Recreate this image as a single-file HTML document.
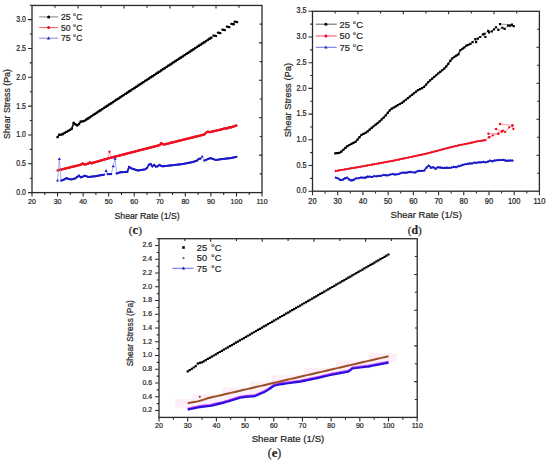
<!DOCTYPE html>
<html><head><meta charset="utf-8"><style>
html,body{margin:0;padding:0;background:#fff;}
body{width:550px;height:462px;overflow:hidden;}
svg{display:block;}
text{font-family:"Liberation Sans", sans-serif;fill:#222;stroke:#222;stroke-width:0.2px;}
text.cap{font-family:"Liberation Serif", serif;font-weight:bold;}
text.cap tspan{font-weight:normal;}
text.cap tspan.l{font-weight:bold;}
</style></head><body>
<svg width="550" height="462" viewBox="0 0 550 462">
<rect width="550" height="462" fill="#fff"/>
<rect x="32.00" y="5.45" width="230.00" height="187.15" fill="none" stroke="#2a2a2a" stroke-width="1.3"/>
<path d="M32.00 192.60h-4.0M32.00 163.77h-4.0M32.00 134.94h-4.0M32.00 106.11h-4.0M32.00 77.28h-4.0M32.00 48.45h-4.0M32.00 19.62h-4.0M32.00 178.19h-2.3M32.00 149.35h-2.3M32.00 120.53h-2.3M32.00 91.70h-2.3M32.00 62.86h-2.3M32.00 34.03h-2.3M32.00 5.20h-2.3M32.00 192.60v4.0M57.56 192.60v4.0M83.11 192.60v4.0M108.67 192.60v4.0M134.22 192.60v4.0M159.78 192.60v4.0M185.33 192.60v4.0M210.89 192.60v4.0M236.44 192.60v4.0M262.00 192.60v4.0M44.78 192.60v2.3M70.33 192.60v2.3M95.89 192.60v2.3M121.44 192.60v2.3M147.00 192.60v2.3M172.56 192.60v2.3M198.11 192.60v2.3M223.67 192.60v2.3M249.22 192.60v2.3M55.00 5.45v2.3M262.00 24.16h-2.3M78.00 5.45v3.0M262.00 42.88h-3.0M101.00 5.45v2.3M262.00 61.60h-2.3M124.00 5.45v3.0M262.00 80.31h-3.0M147.00 5.45v2.3M262.00 99.03h-2.3M170.00 5.45v3.0M262.00 117.74h-3.0M193.00 5.45v2.3M262.00 136.45h-2.3M216.00 5.45v3.0M262.00 155.17h-3.0M239.00 5.45v2.3M262.00 173.88h-2.3" stroke="#2a2a2a" stroke-width="1.10" fill="none"/>
<text transform="translate(26.00 195.06) scale(1 1.18)" text-anchor="end" font-size="7.0">0.0</text>
<text transform="translate(26.00 166.23) scale(1 1.18)" text-anchor="end" font-size="7.0">0.5</text>
<text transform="translate(26.00 137.40) scale(1 1.18)" text-anchor="end" font-size="7.0">1.0</text>
<text transform="translate(26.00 108.57) scale(1 1.18)" text-anchor="end" font-size="7.0">1.5</text>
<text transform="translate(26.00 79.74) scale(1 1.18)" text-anchor="end" font-size="7.0">2.0</text>
<text transform="translate(26.00 50.91) scale(1 1.18)" text-anchor="end" font-size="7.0">2.5</text>
<text transform="translate(26.00 22.08) scale(1 1.18)" text-anchor="end" font-size="7.0">3.0</text>
<text transform="translate(32.00 203.90) scale(1 1.15)" text-anchor="middle" font-size="7.0">20</text>
<text transform="translate(57.56 203.90) scale(1 1.15)" text-anchor="middle" font-size="7.0">30</text>
<text transform="translate(83.11 203.90) scale(1 1.15)" text-anchor="middle" font-size="7.0">40</text>
<text transform="translate(108.67 203.90) scale(1 1.15)" text-anchor="middle" font-size="7.0">50</text>
<text transform="translate(134.22 203.90) scale(1 1.15)" text-anchor="middle" font-size="7.0">60</text>
<text transform="translate(159.78 203.90) scale(1 1.15)" text-anchor="middle" font-size="7.0">70</text>
<text transform="translate(185.33 203.90) scale(1 1.15)" text-anchor="middle" font-size="7.0">80</text>
<text transform="translate(210.89 203.90) scale(1 1.15)" text-anchor="middle" font-size="7.0">90</text>
<text transform="translate(236.44 203.90) scale(1 1.15)" text-anchor="middle" font-size="7.0">100</text>
<text transform="translate(262.00 203.90) scale(1 1.15)" text-anchor="middle" font-size="7.0">110</text>
<path d="M57.56 170.40 L59.34 169.96 L61.13 169.52 L62.92 169.08 L64.71 168.65 L66.50 168.21 L68.29 167.77 L70.08 167.33 L71.87 166.89 L73.66 166.45 L75.44 166.01 L77.23 165.58 L79.02 165.14 L80.81 164.70 L82.60 163.48 L84.39 164.49 L86.18 164.20 L87.97 163.70 L89.76 162.56 L91.54 163.19 L93.33 162.68 L95.12 162.17 L96.91 161.66 L98.70 161.15 L100.49 160.63 L102.28 160.12 L104.07 159.61 L105.86 159.10 L107.64 158.58 L109.43 151.66 L111.22 157.63 L113.01 157.17 L114.80 156.71 L116.59 156.25 L118.38 155.78 L120.17 155.32 L121.96 154.86 L123.74 154.40 L125.53 153.94 L127.32 153.47 L129.11 153.01 L130.90 152.55 L132.69 152.09 L134.48 151.63 L136.27 151.17 L138.06 150.71 L139.84 150.24 L141.63 149.78 L143.42 149.32 L145.21 148.86 L147.00 148.40 L148.79 147.94 L150.58 147.48 L152.37 147.02 L154.16 146.55 L155.94 146.09 L157.73 145.63 L159.52 145.17 L161.31 143.30 L163.10 144.33 L164.89 144.31 L166.68 143.86 L168.47 143.42 L170.26 142.97 L172.04 142.53 L173.83 142.08 L175.62 141.63 L177.41 141.19 L179.20 140.74 L180.99 140.30 L182.78 139.85 L184.57 139.41 L186.36 138.96 L188.14 138.51 L189.93 138.07 L191.72 137.62 L193.51 137.18 L195.30 136.73 L197.09 136.29 L198.88 135.84 L200.67 135.39 L202.46 134.95 L204.24 134.50 L206.03 132.58 L207.82 131.62 L209.61 132.17 L211.40 131.75 L213.19 131.33 L214.98 130.91 L216.77 130.50 L218.56 130.08 L220.34 129.66 L222.13 129.24 L223.92 128.60 L225.71 128.31 L227.50 128.31 L229.29 127.27 L231.08 127.27 L232.87 126.75 L234.66 126.05 L236.44 125.48" stroke="#f08090" stroke-width="0.7" fill="none"/>
<path d="M57.56 170.40 L59.34 169.96 L61.13 169.52 L62.92 169.08 L64.71 168.65 L66.50 168.21 L68.29 167.77 L70.08 167.33 L71.87 166.89 L73.66 166.45 L75.44 166.01 L77.23 165.58 L79.02 165.14 L80.81 164.70 L82.60 163.48 L84.39 164.49 L86.18 164.20 L87.97 163.70 L89.76 162.56 L91.54 163.19 L93.33 162.68 L95.12 162.17 L96.91 161.66 L98.70 161.15 L100.49 160.63 L102.28 160.12 L104.07 159.61 L105.86 159.10 L107.64 158.58 L109.43 158.09 L111.22 157.63 L113.01 157.17 L114.80 156.71 L116.59 156.25 L118.38 155.78 L120.17 155.32 L121.96 154.86 L123.74 154.40 L125.53 153.94 L127.32 153.47 L129.11 153.01 L130.90 152.55 L132.69 152.09 L134.48 151.63 L136.27 151.17 L138.06 150.71 L139.84 150.24 L141.63 149.78 L143.42 149.32 L145.21 148.86 L147.00 148.40 L148.79 147.94 L150.58 147.48 L152.37 147.02 L154.16 146.55 L155.94 146.09 L157.73 145.63 L159.52 145.17 L161.31 143.30 L163.10 144.33 L164.89 144.31 L166.68 143.86 L168.47 143.42 L170.26 142.97 L172.04 142.53 L173.83 142.08 L175.62 141.63 L177.41 141.19 L179.20 140.74 L180.99 140.30 L182.78 139.85 L184.57 139.41 L186.36 138.96 L188.14 138.51 L189.93 138.07 L191.72 137.62 L193.51 137.18 L195.30 136.73 L197.09 136.29 L198.88 135.84 L200.67 135.39 L202.46 134.95 L204.24 134.50 L206.03 132.58 L207.82 131.62 L209.61 132.17 L211.40 131.75 L213.19 131.33 L214.98 130.91 L216.77 130.50 L218.56 130.08 L220.34 129.66 L222.13 129.24 L223.92 128.60 L225.71 128.31 L227.50 128.31 L229.29 127.27 L231.08 127.27 L232.87 126.75 L234.66 126.05 L236.44 125.48" stroke="#ee1020" stroke-width="2.3" fill="none"/>
<path d="M56.36 170.40a1.2 1.2 0 1 0 2.4 0a1.2 1.2 0 1 0 -2.4 0zM58.14 169.96a1.2 1.2 0 1 0 2.4 0a1.2 1.2 0 1 0 -2.4 0zM59.93 169.52a1.2 1.2 0 1 0 2.4 0a1.2 1.2 0 1 0 -2.4 0zM61.72 169.08a1.2 1.2 0 1 0 2.4 0a1.2 1.2 0 1 0 -2.4 0zM63.51 168.65a1.2 1.2 0 1 0 2.4 0a1.2 1.2 0 1 0 -2.4 0zM65.30 168.21a1.2 1.2 0 1 0 2.4 0a1.2 1.2 0 1 0 -2.4 0zM67.09 167.77a1.2 1.2 0 1 0 2.4 0a1.2 1.2 0 1 0 -2.4 0zM68.88 167.33a1.2 1.2 0 1 0 2.4 0a1.2 1.2 0 1 0 -2.4 0zM70.67 166.89a1.2 1.2 0 1 0 2.4 0a1.2 1.2 0 1 0 -2.4 0zM72.46 166.45a1.2 1.2 0 1 0 2.4 0a1.2 1.2 0 1 0 -2.4 0zM74.24 166.01a1.2 1.2 0 1 0 2.4 0a1.2 1.2 0 1 0 -2.4 0zM76.03 165.58a1.2 1.2 0 1 0 2.4 0a1.2 1.2 0 1 0 -2.4 0zM77.82 165.14a1.2 1.2 0 1 0 2.4 0a1.2 1.2 0 1 0 -2.4 0zM79.61 164.70a1.2 1.2 0 1 0 2.4 0a1.2 1.2 0 1 0 -2.4 0zM81.40 163.48a1.2 1.2 0 1 0 2.4 0a1.2 1.2 0 1 0 -2.4 0zM83.19 164.49a1.2 1.2 0 1 0 2.4 0a1.2 1.2 0 1 0 -2.4 0zM84.98 164.20a1.2 1.2 0 1 0 2.4 0a1.2 1.2 0 1 0 -2.4 0zM86.77 163.70a1.2 1.2 0 1 0 2.4 0a1.2 1.2 0 1 0 -2.4 0zM88.56 162.56a1.2 1.2 0 1 0 2.4 0a1.2 1.2 0 1 0 -2.4 0zM90.34 163.19a1.2 1.2 0 1 0 2.4 0a1.2 1.2 0 1 0 -2.4 0zM92.13 162.68a1.2 1.2 0 1 0 2.4 0a1.2 1.2 0 1 0 -2.4 0zM93.92 162.17a1.2 1.2 0 1 0 2.4 0a1.2 1.2 0 1 0 -2.4 0zM95.71 161.66a1.2 1.2 0 1 0 2.4 0a1.2 1.2 0 1 0 -2.4 0zM97.50 161.15a1.2 1.2 0 1 0 2.4 0a1.2 1.2 0 1 0 -2.4 0zM99.29 160.63a1.2 1.2 0 1 0 2.4 0a1.2 1.2 0 1 0 -2.4 0zM101.08 160.12a1.2 1.2 0 1 0 2.4 0a1.2 1.2 0 1 0 -2.4 0zM102.87 159.61a1.2 1.2 0 1 0 2.4 0a1.2 1.2 0 1 0 -2.4 0zM104.66 159.10a1.2 1.2 0 1 0 2.4 0a1.2 1.2 0 1 0 -2.4 0zM106.44 158.58a1.2 1.2 0 1 0 2.4 0a1.2 1.2 0 1 0 -2.4 0zM108.23 151.66a1.2 1.2 0 1 0 2.4 0a1.2 1.2 0 1 0 -2.4 0zM110.02 157.63a1.2 1.2 0 1 0 2.4 0a1.2 1.2 0 1 0 -2.4 0zM111.81 157.17a1.2 1.2 0 1 0 2.4 0a1.2 1.2 0 1 0 -2.4 0zM113.60 156.71a1.2 1.2 0 1 0 2.4 0a1.2 1.2 0 1 0 -2.4 0zM115.39 156.25a1.2 1.2 0 1 0 2.4 0a1.2 1.2 0 1 0 -2.4 0zM117.18 155.78a1.2 1.2 0 1 0 2.4 0a1.2 1.2 0 1 0 -2.4 0zM118.97 155.32a1.2 1.2 0 1 0 2.4 0a1.2 1.2 0 1 0 -2.4 0zM120.76 154.86a1.2 1.2 0 1 0 2.4 0a1.2 1.2 0 1 0 -2.4 0zM122.54 154.40a1.2 1.2 0 1 0 2.4 0a1.2 1.2 0 1 0 -2.4 0zM124.33 153.94a1.2 1.2 0 1 0 2.4 0a1.2 1.2 0 1 0 -2.4 0zM126.12 153.47a1.2 1.2 0 1 0 2.4 0a1.2 1.2 0 1 0 -2.4 0zM127.91 153.01a1.2 1.2 0 1 0 2.4 0a1.2 1.2 0 1 0 -2.4 0zM129.70 152.55a1.2 1.2 0 1 0 2.4 0a1.2 1.2 0 1 0 -2.4 0zM131.49 152.09a1.2 1.2 0 1 0 2.4 0a1.2 1.2 0 1 0 -2.4 0zM133.28 151.63a1.2 1.2 0 1 0 2.4 0a1.2 1.2 0 1 0 -2.4 0zM135.07 151.17a1.2 1.2 0 1 0 2.4 0a1.2 1.2 0 1 0 -2.4 0zM136.86 150.71a1.2 1.2 0 1 0 2.4 0a1.2 1.2 0 1 0 -2.4 0zM138.64 150.24a1.2 1.2 0 1 0 2.4 0a1.2 1.2 0 1 0 -2.4 0zM140.43 149.78a1.2 1.2 0 1 0 2.4 0a1.2 1.2 0 1 0 -2.4 0zM142.22 149.32a1.2 1.2 0 1 0 2.4 0a1.2 1.2 0 1 0 -2.4 0zM144.01 148.86a1.2 1.2 0 1 0 2.4 0a1.2 1.2 0 1 0 -2.4 0zM145.80 148.40a1.2 1.2 0 1 0 2.4 0a1.2 1.2 0 1 0 -2.4 0zM147.59 147.94a1.2 1.2 0 1 0 2.4 0a1.2 1.2 0 1 0 -2.4 0zM149.38 147.48a1.2 1.2 0 1 0 2.4 0a1.2 1.2 0 1 0 -2.4 0zM151.17 147.02a1.2 1.2 0 1 0 2.4 0a1.2 1.2 0 1 0 -2.4 0zM152.96 146.55a1.2 1.2 0 1 0 2.4 0a1.2 1.2 0 1 0 -2.4 0zM154.74 146.09a1.2 1.2 0 1 0 2.4 0a1.2 1.2 0 1 0 -2.4 0zM156.53 145.63a1.2 1.2 0 1 0 2.4 0a1.2 1.2 0 1 0 -2.4 0zM158.32 145.17a1.2 1.2 0 1 0 2.4 0a1.2 1.2 0 1 0 -2.4 0zM160.11 143.30a1.2 1.2 0 1 0 2.4 0a1.2 1.2 0 1 0 -2.4 0zM161.90 144.33a1.2 1.2 0 1 0 2.4 0a1.2 1.2 0 1 0 -2.4 0zM163.69 144.31a1.2 1.2 0 1 0 2.4 0a1.2 1.2 0 1 0 -2.4 0zM165.48 143.86a1.2 1.2 0 1 0 2.4 0a1.2 1.2 0 1 0 -2.4 0zM167.27 143.42a1.2 1.2 0 1 0 2.4 0a1.2 1.2 0 1 0 -2.4 0zM169.06 142.97a1.2 1.2 0 1 0 2.4 0a1.2 1.2 0 1 0 -2.4 0zM170.84 142.53a1.2 1.2 0 1 0 2.4 0a1.2 1.2 0 1 0 -2.4 0zM172.63 142.08a1.2 1.2 0 1 0 2.4 0a1.2 1.2 0 1 0 -2.4 0zM174.42 141.63a1.2 1.2 0 1 0 2.4 0a1.2 1.2 0 1 0 -2.4 0zM176.21 141.19a1.2 1.2 0 1 0 2.4 0a1.2 1.2 0 1 0 -2.4 0zM178.00 140.74a1.2 1.2 0 1 0 2.4 0a1.2 1.2 0 1 0 -2.4 0zM179.79 140.30a1.2 1.2 0 1 0 2.4 0a1.2 1.2 0 1 0 -2.4 0zM181.58 139.85a1.2 1.2 0 1 0 2.4 0a1.2 1.2 0 1 0 -2.4 0zM183.37 139.41a1.2 1.2 0 1 0 2.4 0a1.2 1.2 0 1 0 -2.4 0zM185.16 138.96a1.2 1.2 0 1 0 2.4 0a1.2 1.2 0 1 0 -2.4 0zM186.94 138.51a1.2 1.2 0 1 0 2.4 0a1.2 1.2 0 1 0 -2.4 0zM188.73 138.07a1.2 1.2 0 1 0 2.4 0a1.2 1.2 0 1 0 -2.4 0zM190.52 137.62a1.2 1.2 0 1 0 2.4 0a1.2 1.2 0 1 0 -2.4 0zM192.31 137.18a1.2 1.2 0 1 0 2.4 0a1.2 1.2 0 1 0 -2.4 0zM194.10 136.73a1.2 1.2 0 1 0 2.4 0a1.2 1.2 0 1 0 -2.4 0zM195.89 136.29a1.2 1.2 0 1 0 2.4 0a1.2 1.2 0 1 0 -2.4 0zM197.68 135.84a1.2 1.2 0 1 0 2.4 0a1.2 1.2 0 1 0 -2.4 0zM199.47 135.39a1.2 1.2 0 1 0 2.4 0a1.2 1.2 0 1 0 -2.4 0zM201.26 134.95a1.2 1.2 0 1 0 2.4 0a1.2 1.2 0 1 0 -2.4 0zM203.04 134.50a1.2 1.2 0 1 0 2.4 0a1.2 1.2 0 1 0 -2.4 0zM204.83 132.58a1.2 1.2 0 1 0 2.4 0a1.2 1.2 0 1 0 -2.4 0zM206.62 131.62a1.2 1.2 0 1 0 2.4 0a1.2 1.2 0 1 0 -2.4 0zM208.41 132.17a1.2 1.2 0 1 0 2.4 0a1.2 1.2 0 1 0 -2.4 0zM210.20 131.75a1.2 1.2 0 1 0 2.4 0a1.2 1.2 0 1 0 -2.4 0zM211.99 131.33a1.2 1.2 0 1 0 2.4 0a1.2 1.2 0 1 0 -2.4 0zM213.78 130.91a1.2 1.2 0 1 0 2.4 0a1.2 1.2 0 1 0 -2.4 0zM215.57 130.50a1.2 1.2 0 1 0 2.4 0a1.2 1.2 0 1 0 -2.4 0zM217.36 130.08a1.2 1.2 0 1 0 2.4 0a1.2 1.2 0 1 0 -2.4 0zM219.14 129.66a1.2 1.2 0 1 0 2.4 0a1.2 1.2 0 1 0 -2.4 0zM220.93 129.24a1.2 1.2 0 1 0 2.4 0a1.2 1.2 0 1 0 -2.4 0zM222.72 128.60a1.2 1.2 0 1 0 2.4 0a1.2 1.2 0 1 0 -2.4 0zM224.51 128.31a1.2 1.2 0 1 0 2.4 0a1.2 1.2 0 1 0 -2.4 0zM226.30 128.31a1.2 1.2 0 1 0 2.4 0a1.2 1.2 0 1 0 -2.4 0zM228.09 127.27a1.2 1.2 0 1 0 2.4 0a1.2 1.2 0 1 0 -2.4 0zM229.88 127.27a1.2 1.2 0 1 0 2.4 0a1.2 1.2 0 1 0 -2.4 0zM231.67 126.75a1.2 1.2 0 1 0 2.4 0a1.2 1.2 0 1 0 -2.4 0zM233.46 126.05a1.2 1.2 0 1 0 2.4 0a1.2 1.2 0 1 0 -2.4 0zM235.24 125.48a1.2 1.2 0 1 0 2.4 0a1.2 1.2 0 1 0 -2.4 0z" fill="#ee1020"/>
<path d="M57.56 180.72 L59.34 158.87 L61.13 180.65 L62.92 180.08 L64.71 179.13 L66.50 178.19 L68.29 178.78 L70.08 179.37 L71.87 179.36 L73.66 178.88 L75.44 178.28 L77.23 176.94 L79.02 175.59 L80.81 177.36 L82.60 176.74 L84.39 175.73 L86.18 176.17 L87.97 176.84 L89.76 176.88 L91.54 176.66 L93.33 176.44 L95.12 176.23 L96.91 175.94 L98.70 175.62 L100.49 175.31 L102.28 174.99 L104.07 174.77 L106.11 170.80 L107.64 174.19 L109.43 174.15 L111.22 174.15 L113.27 166.19 L115.06 158.58 L116.59 173.57 L118.38 172.89 L120.17 172.29 L121.96 172.19 L123.74 172.09 L125.53 171.99 L127.32 171.89 L129.11 166.83 L130.90 168.08 L132.69 168.92 L134.48 169.45 L136.27 169.98 L138.06 170.52 L139.84 170.22 L141.63 169.93 L143.42 169.64 L145.21 169.34 L147.00 168.09 L148.79 164.84 L150.58 163.92 L152.37 166.46 L154.16 164.85 L155.94 166.63 L157.73 166.28 L159.52 164.87 L161.31 166.08 L163.10 166.28 L164.89 166.08 L166.68 165.87 L168.47 165.67 L170.26 165.47 L172.04 165.27 L173.83 165.07 L175.62 164.87 L177.41 164.66 L179.20 164.46 L180.99 164.26 L182.78 164.01 L184.57 163.66 L186.36 163.31 L188.14 162.95 L189.93 162.60 L191.72 162.24 L193.51 161.78 L195.30 161.16 L197.09 160.54 L198.88 158.74 L200.67 158.58 L202.20 156.39 L204.24 160.60 L206.03 159.84 L207.82 159.09 L209.61 158.33 L211.40 158.39 L213.19 159.06 L214.98 159.73 L216.77 159.86 L218.56 159.57 L220.34 159.28 L222.13 159.04 L223.92 158.84 L225.71 158.64 L227.50 158.44 L229.29 158.23 L231.08 158.03 L232.87 157.66 L234.66 157.25 L236.44 156.85" stroke="#8090e8" stroke-width="0.7" fill="none"/>
<path d="M61.13 180.65 L62.92 180.08 L64.71 179.13 L66.50 178.19 L68.29 178.78 L70.08 179.37 L71.87 179.36 L73.66 178.88 L75.44 178.28 L77.23 176.94 L79.02 175.59 L80.81 177.36 L82.60 176.74 L84.39 175.73 L86.18 176.17 L87.97 176.84 L89.76 176.88 L91.54 176.66 L93.33 176.44 L95.12 176.23 L96.91 175.94 L98.70 175.62 L100.49 175.31 L102.28 174.99 L104.07 174.77" stroke="#1a1ac8" stroke-width="1.9" fill="none" stroke-linejoin="round"/>
<path d="M107.64 174.19 L109.43 174.15 L111.22 174.15" stroke="#1a1ac8" stroke-width="1.9" fill="none" stroke-linejoin="round"/>
<path d="M116.59 173.57 L118.38 172.89 L120.17 172.29 L121.96 172.19 L123.74 172.09 L125.53 171.99 L127.32 171.89 L129.11 166.83 L130.90 168.08 L132.69 168.92 L134.48 169.45 L136.27 169.98 L138.06 170.52 L139.84 170.22 L141.63 169.93 L143.42 169.64 L145.21 169.34 L147.00 168.09 L148.79 164.84 L150.58 163.92 L152.37 166.46 L154.16 164.85 L155.94 166.63 L157.73 166.28 L159.52 164.87 L161.31 166.08 L163.10 166.28 L164.89 166.08 L166.68 165.87 L168.47 165.67 L170.26 165.47 L172.04 165.27 L173.83 165.07 L175.62 164.87 L177.41 164.66 L179.20 164.46 L180.99 164.26 L182.78 164.01 L184.57 163.66 L186.36 163.31 L188.14 162.95 L189.93 162.60 L191.72 162.24 L193.51 161.78 L195.30 161.16 L197.09 160.54 L198.88 158.74 L200.67 158.58" stroke="#1a1ac8" stroke-width="1.9" fill="none" stroke-linejoin="round"/>
<path d="M204.24 160.60 L206.03 159.84 L207.82 159.09 L209.61 158.33 L211.40 158.39 L213.19 159.06 L214.98 159.73 L216.77 159.86 L218.56 159.57 L220.34 159.28 L222.13 159.04 L223.92 158.84 L225.71 158.64 L227.50 158.44 L229.29 158.23 L231.08 158.03 L232.87 157.66 L234.66 157.25 L236.44 156.85" stroke="#1a1ac8" stroke-width="1.9" fill="none" stroke-linejoin="round"/>
<path d="M56.46 180.72a1.1 1.1 0 1 0 2.2 0a1.1 1.1 0 1 0 -2.2 0zM60.03 180.65a1.1 1.1 0 1 0 2.2 0a1.1 1.1 0 1 0 -2.2 0zM61.82 180.08a1.1 1.1 0 1 0 2.2 0a1.1 1.1 0 1 0 -2.2 0zM63.61 179.13a1.1 1.1 0 1 0 2.2 0a1.1 1.1 0 1 0 -2.2 0zM65.40 178.19a1.1 1.1 0 1 0 2.2 0a1.1 1.1 0 1 0 -2.2 0zM67.19 178.78a1.1 1.1 0 1 0 2.2 0a1.1 1.1 0 1 0 -2.2 0zM68.98 179.37a1.1 1.1 0 1 0 2.2 0a1.1 1.1 0 1 0 -2.2 0zM70.77 179.36a1.1 1.1 0 1 0 2.2 0a1.1 1.1 0 1 0 -2.2 0zM72.56 178.88a1.1 1.1 0 1 0 2.2 0a1.1 1.1 0 1 0 -2.2 0zM74.34 178.28a1.1 1.1 0 1 0 2.2 0a1.1 1.1 0 1 0 -2.2 0zM76.13 176.94a1.1 1.1 0 1 0 2.2 0a1.1 1.1 0 1 0 -2.2 0zM77.92 175.59a1.1 1.1 0 1 0 2.2 0a1.1 1.1 0 1 0 -2.2 0zM79.71 177.36a1.1 1.1 0 1 0 2.2 0a1.1 1.1 0 1 0 -2.2 0zM81.50 176.74a1.1 1.1 0 1 0 2.2 0a1.1 1.1 0 1 0 -2.2 0zM83.29 175.73a1.1 1.1 0 1 0 2.2 0a1.1 1.1 0 1 0 -2.2 0zM85.08 176.17a1.1 1.1 0 1 0 2.2 0a1.1 1.1 0 1 0 -2.2 0zM86.87 176.84a1.1 1.1 0 1 0 2.2 0a1.1 1.1 0 1 0 -2.2 0zM88.66 176.88a1.1 1.1 0 1 0 2.2 0a1.1 1.1 0 1 0 -2.2 0zM90.44 176.66a1.1 1.1 0 1 0 2.2 0a1.1 1.1 0 1 0 -2.2 0zM92.23 176.44a1.1 1.1 0 1 0 2.2 0a1.1 1.1 0 1 0 -2.2 0zM94.02 176.23a1.1 1.1 0 1 0 2.2 0a1.1 1.1 0 1 0 -2.2 0zM95.81 175.94a1.1 1.1 0 1 0 2.2 0a1.1 1.1 0 1 0 -2.2 0zM97.60 175.62a1.1 1.1 0 1 0 2.2 0a1.1 1.1 0 1 0 -2.2 0zM99.39 175.31a1.1 1.1 0 1 0 2.2 0a1.1 1.1 0 1 0 -2.2 0zM101.18 174.99a1.1 1.1 0 1 0 2.2 0a1.1 1.1 0 1 0 -2.2 0zM102.97 174.77a1.1 1.1 0 1 0 2.2 0a1.1 1.1 0 1 0 -2.2 0zM106.54 174.19a1.1 1.1 0 1 0 2.2 0a1.1 1.1 0 1 0 -2.2 0zM108.33 174.15a1.1 1.1 0 1 0 2.2 0a1.1 1.1 0 1 0 -2.2 0zM110.12 174.15a1.1 1.1 0 1 0 2.2 0a1.1 1.1 0 1 0 -2.2 0zM115.49 173.57a1.1 1.1 0 1 0 2.2 0a1.1 1.1 0 1 0 -2.2 0zM117.28 172.89a1.1 1.1 0 1 0 2.2 0a1.1 1.1 0 1 0 -2.2 0zM119.07 172.29a1.1 1.1 0 1 0 2.2 0a1.1 1.1 0 1 0 -2.2 0zM120.86 172.19a1.1 1.1 0 1 0 2.2 0a1.1 1.1 0 1 0 -2.2 0zM122.64 172.09a1.1 1.1 0 1 0 2.2 0a1.1 1.1 0 1 0 -2.2 0zM124.43 171.99a1.1 1.1 0 1 0 2.2 0a1.1 1.1 0 1 0 -2.2 0zM126.22 171.89a1.1 1.1 0 1 0 2.2 0a1.1 1.1 0 1 0 -2.2 0zM128.01 166.83a1.1 1.1 0 1 0 2.2 0a1.1 1.1 0 1 0 -2.2 0zM129.80 168.08a1.1 1.1 0 1 0 2.2 0a1.1 1.1 0 1 0 -2.2 0zM131.59 168.92a1.1 1.1 0 1 0 2.2 0a1.1 1.1 0 1 0 -2.2 0zM133.38 169.45a1.1 1.1 0 1 0 2.2 0a1.1 1.1 0 1 0 -2.2 0zM135.17 169.98a1.1 1.1 0 1 0 2.2 0a1.1 1.1 0 1 0 -2.2 0zM136.96 170.52a1.1 1.1 0 1 0 2.2 0a1.1 1.1 0 1 0 -2.2 0zM138.74 170.22a1.1 1.1 0 1 0 2.2 0a1.1 1.1 0 1 0 -2.2 0zM140.53 169.93a1.1 1.1 0 1 0 2.2 0a1.1 1.1 0 1 0 -2.2 0zM142.32 169.64a1.1 1.1 0 1 0 2.2 0a1.1 1.1 0 1 0 -2.2 0zM144.11 169.34a1.1 1.1 0 1 0 2.2 0a1.1 1.1 0 1 0 -2.2 0zM145.90 168.09a1.1 1.1 0 1 0 2.2 0a1.1 1.1 0 1 0 -2.2 0zM147.69 164.84a1.1 1.1 0 1 0 2.2 0a1.1 1.1 0 1 0 -2.2 0zM149.48 163.92a1.1 1.1 0 1 0 2.2 0a1.1 1.1 0 1 0 -2.2 0zM151.27 166.46a1.1 1.1 0 1 0 2.2 0a1.1 1.1 0 1 0 -2.2 0zM153.06 164.85a1.1 1.1 0 1 0 2.2 0a1.1 1.1 0 1 0 -2.2 0zM154.84 166.63a1.1 1.1 0 1 0 2.2 0a1.1 1.1 0 1 0 -2.2 0zM156.63 166.28a1.1 1.1 0 1 0 2.2 0a1.1 1.1 0 1 0 -2.2 0zM158.42 164.87a1.1 1.1 0 1 0 2.2 0a1.1 1.1 0 1 0 -2.2 0zM160.21 166.08a1.1 1.1 0 1 0 2.2 0a1.1 1.1 0 1 0 -2.2 0zM162.00 166.28a1.1 1.1 0 1 0 2.2 0a1.1 1.1 0 1 0 -2.2 0zM163.79 166.08a1.1 1.1 0 1 0 2.2 0a1.1 1.1 0 1 0 -2.2 0zM165.58 165.87a1.1 1.1 0 1 0 2.2 0a1.1 1.1 0 1 0 -2.2 0zM167.37 165.67a1.1 1.1 0 1 0 2.2 0a1.1 1.1 0 1 0 -2.2 0zM169.16 165.47a1.1 1.1 0 1 0 2.2 0a1.1 1.1 0 1 0 -2.2 0zM170.94 165.27a1.1 1.1 0 1 0 2.2 0a1.1 1.1 0 1 0 -2.2 0zM172.73 165.07a1.1 1.1 0 1 0 2.2 0a1.1 1.1 0 1 0 -2.2 0zM174.52 164.87a1.1 1.1 0 1 0 2.2 0a1.1 1.1 0 1 0 -2.2 0zM176.31 164.66a1.1 1.1 0 1 0 2.2 0a1.1 1.1 0 1 0 -2.2 0zM178.10 164.46a1.1 1.1 0 1 0 2.2 0a1.1 1.1 0 1 0 -2.2 0zM179.89 164.26a1.1 1.1 0 1 0 2.2 0a1.1 1.1 0 1 0 -2.2 0zM181.68 164.01a1.1 1.1 0 1 0 2.2 0a1.1 1.1 0 1 0 -2.2 0zM183.47 163.66a1.1 1.1 0 1 0 2.2 0a1.1 1.1 0 1 0 -2.2 0zM185.26 163.31a1.1 1.1 0 1 0 2.2 0a1.1 1.1 0 1 0 -2.2 0zM187.04 162.95a1.1 1.1 0 1 0 2.2 0a1.1 1.1 0 1 0 -2.2 0zM188.83 162.60a1.1 1.1 0 1 0 2.2 0a1.1 1.1 0 1 0 -2.2 0zM190.62 162.24a1.1 1.1 0 1 0 2.2 0a1.1 1.1 0 1 0 -2.2 0zM192.41 161.78a1.1 1.1 0 1 0 2.2 0a1.1 1.1 0 1 0 -2.2 0zM194.20 161.16a1.1 1.1 0 1 0 2.2 0a1.1 1.1 0 1 0 -2.2 0zM195.99 160.54a1.1 1.1 0 1 0 2.2 0a1.1 1.1 0 1 0 -2.2 0zM197.78 158.74a1.1 1.1 0 1 0 2.2 0a1.1 1.1 0 1 0 -2.2 0zM199.57 158.58a1.1 1.1 0 1 0 2.2 0a1.1 1.1 0 1 0 -2.2 0zM203.14 160.60a1.1 1.1 0 1 0 2.2 0a1.1 1.1 0 1 0 -2.2 0zM204.93 159.84a1.1 1.1 0 1 0 2.2 0a1.1 1.1 0 1 0 -2.2 0zM206.72 159.09a1.1 1.1 0 1 0 2.2 0a1.1 1.1 0 1 0 -2.2 0zM208.51 158.33a1.1 1.1 0 1 0 2.2 0a1.1 1.1 0 1 0 -2.2 0zM210.30 158.39a1.1 1.1 0 1 0 2.2 0a1.1 1.1 0 1 0 -2.2 0zM212.09 159.06a1.1 1.1 0 1 0 2.2 0a1.1 1.1 0 1 0 -2.2 0zM213.88 159.73a1.1 1.1 0 1 0 2.2 0a1.1 1.1 0 1 0 -2.2 0zM215.67 159.86a1.1 1.1 0 1 0 2.2 0a1.1 1.1 0 1 0 -2.2 0zM217.46 159.57a1.1 1.1 0 1 0 2.2 0a1.1 1.1 0 1 0 -2.2 0zM219.24 159.28a1.1 1.1 0 1 0 2.2 0a1.1 1.1 0 1 0 -2.2 0zM221.03 159.04a1.1 1.1 0 1 0 2.2 0a1.1 1.1 0 1 0 -2.2 0zM222.82 158.84a1.1 1.1 0 1 0 2.2 0a1.1 1.1 0 1 0 -2.2 0zM224.61 158.64a1.1 1.1 0 1 0 2.2 0a1.1 1.1 0 1 0 -2.2 0zM226.40 158.44a1.1 1.1 0 1 0 2.2 0a1.1 1.1 0 1 0 -2.2 0zM228.19 158.23a1.1 1.1 0 1 0 2.2 0a1.1 1.1 0 1 0 -2.2 0zM229.98 158.03a1.1 1.1 0 1 0 2.2 0a1.1 1.1 0 1 0 -2.2 0zM231.77 157.66a1.1 1.1 0 1 0 2.2 0a1.1 1.1 0 1 0 -2.2 0zM233.56 157.25a1.1 1.1 0 1 0 2.2 0a1.1 1.1 0 1 0 -2.2 0zM235.34 156.85a1.1 1.1 0 1 0 2.2 0a1.1 1.1 0 1 0 -2.2 0z" fill="#1a1ac8"/>
<path d="M59.34 157.19l1.54 2.80h-3.08zM106.11 169.12l1.54 2.80h-3.08zM113.27 164.51l1.54 2.80h-3.08zM115.06 156.90l1.54 2.80h-3.08zM202.20 154.71l1.54 2.80h-3.08z" fill="#1a1ac8"/>
<path d="M57.56 137.07 L59.34 134.77 L61.13 134.71 L62.92 134.02 L64.71 132.94 L66.50 131.91 L68.29 130.90 L70.08 129.89 L71.87 128.60 L73.66 122.83 L75.44 124.34 L77.23 125.43 L79.02 123.98 L80.81 121.56 L82.60 121.29 L84.39 120.83 L86.18 119.66 L87.97 118.49 L89.76 117.31 L91.54 116.14 L93.33 114.97 L95.12 113.79 L96.91 112.62 L98.70 111.45 L100.49 110.27 L102.28 109.10 L104.07 107.93 L105.86 106.76 L107.64 105.58 L109.43 104.41 L111.22 103.24 L113.01 102.06 L114.80 100.89 L116.59 99.72 L118.38 98.55 L120.17 97.37 L121.96 96.20 L123.74 95.03 L125.53 93.85 L127.32 92.68 L129.11 91.51 L130.90 90.34 L132.69 89.16 L134.48 87.99 L136.27 86.82 L138.06 85.64 L139.84 84.47 L141.63 83.30 L143.42 82.12 L145.21 80.95 L147.00 79.78 L148.79 78.61 L150.58 77.43 L152.37 76.26 L154.16 75.09 L155.94 73.91 L157.73 72.74 L159.52 71.57 L161.31 70.40 L163.10 69.22 L164.89 68.05 L166.68 66.88 L168.47 65.70 L170.26 64.53 L172.04 63.36 L173.83 62.19 L175.62 61.01 L177.41 59.84 L179.20 58.67 L180.99 57.49 L182.78 56.32 L184.57 55.15 L186.36 53.97 L188.14 52.80 L189.93 51.63 L191.72 50.46 L193.51 49.28 L195.30 48.11 L197.09 46.94 L198.88 45.76 L200.67 44.59 L202.46 43.42 L204.24 42.25 L206.03 41.07 L207.82 39.90 L209.61 38.73 L211.40 37.55" stroke="#111" stroke-width="1.6" fill="none"/>
<path d="M56.41 135.92h2.3v2.3h-2.3zM58.19 133.62h2.3v2.3h-2.3zM59.98 133.56h2.3v2.3h-2.3zM61.77 132.87h2.3v2.3h-2.3zM63.56 131.79h2.3v2.3h-2.3zM65.35 130.76h2.3v2.3h-2.3zM67.14 129.75h2.3v2.3h-2.3zM68.93 128.74h2.3v2.3h-2.3zM70.72 127.45h2.3v2.3h-2.3zM72.51 121.68h2.3v2.3h-2.3zM74.29 123.19h2.3v2.3h-2.3zM76.08 124.28h2.3v2.3h-2.3zM77.87 122.83h2.3v2.3h-2.3zM79.66 120.41h2.3v2.3h-2.3zM81.45 120.14h2.3v2.3h-2.3zM83.24 119.68h2.3v2.3h-2.3zM85.03 118.51h2.3v2.3h-2.3zM86.82 117.34h2.3v2.3h-2.3zM88.61 116.16h2.3v2.3h-2.3zM90.39 114.99h2.3v2.3h-2.3zM92.18 113.82h2.3v2.3h-2.3zM93.97 112.64h2.3v2.3h-2.3zM95.76 111.47h2.3v2.3h-2.3zM97.55 110.30h2.3v2.3h-2.3zM99.34 109.12h2.3v2.3h-2.3zM101.13 107.95h2.3v2.3h-2.3zM102.92 106.78h2.3v2.3h-2.3zM104.71 105.61h2.3v2.3h-2.3zM106.49 104.43h2.3v2.3h-2.3zM108.28 103.26h2.3v2.3h-2.3zM110.07 102.09h2.3v2.3h-2.3zM111.86 100.91h2.3v2.3h-2.3zM113.65 99.74h2.3v2.3h-2.3zM115.44 98.57h2.3v2.3h-2.3zM117.23 97.40h2.3v2.3h-2.3zM119.02 96.22h2.3v2.3h-2.3zM120.81 95.05h2.3v2.3h-2.3zM122.59 93.88h2.3v2.3h-2.3zM124.38 92.70h2.3v2.3h-2.3zM126.17 91.53h2.3v2.3h-2.3zM127.96 90.36h2.3v2.3h-2.3zM129.75 89.19h2.3v2.3h-2.3zM131.54 88.01h2.3v2.3h-2.3zM133.33 86.84h2.3v2.3h-2.3zM135.12 85.67h2.3v2.3h-2.3zM136.91 84.49h2.3v2.3h-2.3zM138.69 83.32h2.3v2.3h-2.3zM140.48 82.15h2.3v2.3h-2.3zM142.27 80.97h2.3v2.3h-2.3zM144.06 79.80h2.3v2.3h-2.3zM145.85 78.63h2.3v2.3h-2.3zM147.64 77.46h2.3v2.3h-2.3zM149.43 76.28h2.3v2.3h-2.3zM151.22 75.11h2.3v2.3h-2.3zM153.01 73.94h2.3v2.3h-2.3zM154.79 72.76h2.3v2.3h-2.3zM156.58 71.59h2.3v2.3h-2.3zM158.37 70.42h2.3v2.3h-2.3zM160.16 69.25h2.3v2.3h-2.3zM161.95 68.07h2.3v2.3h-2.3zM163.74 66.90h2.3v2.3h-2.3zM165.53 65.73h2.3v2.3h-2.3zM167.32 64.55h2.3v2.3h-2.3zM169.11 63.38h2.3v2.3h-2.3zM170.89 62.21h2.3v2.3h-2.3zM172.68 61.04h2.3v2.3h-2.3zM174.47 59.86h2.3v2.3h-2.3zM176.26 58.69h2.3v2.3h-2.3zM178.05 57.52h2.3v2.3h-2.3zM179.84 56.34h2.3v2.3h-2.3zM181.63 55.17h2.3v2.3h-2.3zM183.42 54.00h2.3v2.3h-2.3zM185.21 52.82h2.3v2.3h-2.3zM186.99 51.65h2.3v2.3h-2.3zM188.78 50.48h2.3v2.3h-2.3zM190.57 49.31h2.3v2.3h-2.3zM192.36 48.13h2.3v2.3h-2.3zM194.15 46.96h2.3v2.3h-2.3zM195.94 45.79h2.3v2.3h-2.3zM197.73 44.61h2.3v2.3h-2.3zM199.52 43.44h2.3v2.3h-2.3zM201.31 42.27h2.3v2.3h-2.3zM203.09 41.10h2.3v2.3h-2.3zM204.88 39.92h2.3v2.3h-2.3zM206.67 38.75h2.3v2.3h-2.3zM208.46 37.58h2.3v2.3h-2.3zM210.25 36.40h2.3v2.3h-2.3z" fill="#000"/>
<path d="M213.44 35.52 L216.00 35.98" stroke="#000" stroke-width="2.3" stroke-linecap="round" fill="none"/>
<path d="M217.92 32.59 L220.47 33.05" stroke="#000" stroke-width="2.3" stroke-linecap="round" fill="none"/>
<path d="M222.39 29.66 L224.94 30.12" stroke="#000" stroke-width="2.3" stroke-linecap="round" fill="none"/>
<path d="M226.86 26.72 L229.42 27.19" stroke="#000" stroke-width="2.3" stroke-linecap="round" fill="none"/>
<path d="M231.33 23.79 L233.89 24.25" stroke="#000" stroke-width="2.3" stroke-linecap="round" fill="none"/>
<path d="M234.66 21.61 L237.21 22.08" stroke="#000" stroke-width="2.3" stroke-linecap="round" fill="none"/>
<rect x="312.50" y="11.30" width="226.90" height="179.90" fill="none" stroke="#2a2a2a" stroke-width="1.3"/>
<path d="M312.50 191.20h-4.0M312.50 165.50h-4.0M312.50 139.80h-4.0M312.50 114.10h-4.0M312.50 88.40h-4.0M312.50 62.70h-4.0M312.50 37.00h-4.0M312.50 11.30h-4.0M312.50 178.35h-2.3M312.50 152.65h-2.3M312.50 126.95h-2.3M312.50 101.25h-2.3M312.50 75.55h-2.3M312.50 49.85h-2.3M312.50 24.15h-2.3M312.50 191.20v4.0M337.71 191.20v4.0M362.92 191.20v4.0M388.13 191.20v4.0M413.34 191.20v4.0M438.56 191.20v4.0M463.77 191.20v4.0M488.98 191.20v4.0M514.19 191.20v4.0M539.40 191.20v4.0M325.11 191.20v2.3M350.32 191.20v2.3M375.53 191.20v2.3M400.74 191.20v2.3M425.95 191.20v2.3M451.16 191.20v2.3M476.37 191.20v2.3M501.58 191.20v2.3M526.79 191.20v2.3M335.19 11.30v2.3M539.40 29.29h-2.3M357.88 11.30v3.0M539.40 47.28h-3.0M380.57 11.30v2.3M539.40 65.27h-2.3M403.26 11.30v3.0M539.40 83.26h-3.0M425.95 11.30v2.3M539.40 101.25h-2.3M448.64 11.30v3.0M539.40 119.24h-3.0M471.33 11.30v2.3M539.40 137.23h-2.3M494.02 11.30v3.0M539.40 155.22h-3.0M516.71 11.30v2.3M539.40 173.21h-2.3" stroke="#2a2a2a" stroke-width="1.10" fill="none"/>
<text transform="translate(306.50 193.30) scale(1 1.18)" text-anchor="end" font-size="7.2">0.0</text>
<text transform="translate(306.50 167.60) scale(1 1.18)" text-anchor="end" font-size="7.2">0.5</text>
<text transform="translate(306.50 141.90) scale(1 1.18)" text-anchor="end" font-size="7.2">1.0</text>
<text transform="translate(306.50 116.20) scale(1 1.18)" text-anchor="end" font-size="7.2">1.5</text>
<text transform="translate(306.50 90.50) scale(1 1.18)" text-anchor="end" font-size="7.2">2.0</text>
<text transform="translate(306.50 64.80) scale(1 1.18)" text-anchor="end" font-size="7.2">2.5</text>
<text transform="translate(306.50 39.10) scale(1 1.18)" text-anchor="end" font-size="7.2">3.0</text>
<text transform="translate(306.50 13.40) scale(1 1.18)" text-anchor="end" font-size="7.2">3.5</text>
<text transform="translate(312.50 203.60) scale(1 1.16)" text-anchor="middle" font-size="7.5">20</text>
<text transform="translate(337.71 203.60) scale(1 1.16)" text-anchor="middle" font-size="7.5">30</text>
<text transform="translate(362.92 203.60) scale(1 1.16)" text-anchor="middle" font-size="7.5">40</text>
<text transform="translate(388.13 203.60) scale(1 1.16)" text-anchor="middle" font-size="7.5">50</text>
<text transform="translate(413.34 203.60) scale(1 1.16)" text-anchor="middle" font-size="7.5">60</text>
<text transform="translate(438.56 203.60) scale(1 1.16)" text-anchor="middle" font-size="7.5">70</text>
<text transform="translate(463.77 203.60) scale(1 1.16)" text-anchor="middle" font-size="7.5">80</text>
<text transform="translate(488.98 203.60) scale(1 1.16)" text-anchor="middle" font-size="7.5">90</text>
<text transform="translate(514.19 203.60) scale(1 1.16)" text-anchor="middle" font-size="7.5">100</text>
<text transform="translate(539.40 203.60) scale(1 1.16)" text-anchor="middle" font-size="7.5">110</text>
<path d="M335.69 171.00 L337.96 170.61 L340.23 170.22 L342.50 169.83 L344.77 169.44 L347.04 169.05 L349.31 168.66 L351.58 168.27 L353.85 167.88 L356.12 167.49 L358.38 167.10 L360.65 166.71 L362.92 166.32 L365.19 165.90 L367.46 165.49 L369.73 165.07 L372.00 164.65 L374.27 164.24 L376.54 163.82 L378.81 163.40 L381.07 162.98 L383.34 162.57 L385.61 162.15 L387.88 161.73 L390.15 161.31 L392.42 160.90 L394.69 160.46 L396.96 159.97 L399.23 159.48 L401.50 159.00 L403.76 158.51 L406.03 158.03 L408.30 157.54 L410.57 157.06 L412.84 156.57 L415.11 156.09 L417.38 155.60 L419.65 155.12 L421.92 154.63 L424.19 154.15 L426.45 153.61 L428.72 153.04 L430.99 152.47 L433.26 151.90 L435.53 151.28 L437.80 150.66 L440.07 150.05 L442.34 149.43 L444.61 148.81 L446.88 148.23 L449.14 147.67 L451.41 147.12 L453.68 146.56 L455.95 146.01 L458.22 145.45 L460.49 144.99 L462.76 144.53 L465.03 144.07 L467.30 143.60 L469.57 143.14 L471.83 142.65 L474.10 142.11 L476.37 141.58 L478.64 141.16 L480.91 140.82 L483.18 140.48 L485.45 140.15" stroke="#ee1020" stroke-width="1.6" fill="none"/>
<path d="M335.69 171.00 L337.96 170.61 L340.23 170.22 L342.50 169.83 L344.77 169.44 L347.04 169.05 L349.31 168.66 L351.58 168.27 L353.85 167.88 L356.12 167.49 L358.38 167.10 L360.65 166.71 L362.92 166.32 L365.19 165.90 L367.46 165.49 L369.73 165.07 L372.00 164.65 L374.27 164.24 L376.54 163.82 L378.81 163.40 L381.07 162.98 L383.34 162.57 L385.61 162.15 L387.88 161.73 L390.15 161.31 L392.42 160.90 L394.69 160.46 L396.96 159.97 L399.23 159.48 L401.50 159.00 L403.76 158.51 L406.03 158.03 L408.30 157.54 L410.57 157.06 L412.84 156.57 L415.11 156.09 L417.38 155.60 L419.65 155.12 L421.92 154.63 L424.19 154.15 L426.45 153.61 L428.72 153.04 L430.99 152.47 L433.26 151.90 L435.53 151.28 L437.80 150.66 L440.07 150.05 L442.34 149.43 L444.61 148.81 L446.88 148.23 L449.14 147.67 L451.41 147.12 L453.68 146.56 L455.95 146.01 L458.22 145.45 L460.49 144.99 L462.76 144.53 L465.03 144.07 L467.30 143.60 L469.57 143.14 L471.83 142.65 L474.10 142.11 L476.37 141.58 L478.64 141.16 L480.91 140.82 L483.18 140.48 L485.45 140.15 L488.73 137.23 L489.48 137.23 L492.76 135.43 L498.31 133.63 L501.84 131.58 L503.35 130.55 L505.11 132.09 L509.15 127.46 L512.42 125.41 L513.43 129.01" stroke="#f07080" stroke-width="0.7" fill="none" stroke-opacity="1.0"/><path d="M334.54 171.00a1.15 1.15 0 1 0 2.3 0a1.15 1.15 0 1 0 -2.3 0zM336.81 170.61a1.15 1.15 0 1 0 2.3 0a1.15 1.15 0 1 0 -2.3 0zM339.08 170.22a1.15 1.15 0 1 0 2.3 0a1.15 1.15 0 1 0 -2.3 0zM341.35 169.83a1.15 1.15 0 1 0 2.3 0a1.15 1.15 0 1 0 -2.3 0zM343.62 169.44a1.15 1.15 0 1 0 2.3 0a1.15 1.15 0 1 0 -2.3 0zM345.89 169.05a1.15 1.15 0 1 0 2.3 0a1.15 1.15 0 1 0 -2.3 0zM348.16 168.66a1.15 1.15 0 1 0 2.3 0a1.15 1.15 0 1 0 -2.3 0zM350.43 168.27a1.15 1.15 0 1 0 2.3 0a1.15 1.15 0 1 0 -2.3 0zM352.70 167.88a1.15 1.15 0 1 0 2.3 0a1.15 1.15 0 1 0 -2.3 0zM354.97 167.49a1.15 1.15 0 1 0 2.3 0a1.15 1.15 0 1 0 -2.3 0zM357.23 167.10a1.15 1.15 0 1 0 2.3 0a1.15 1.15 0 1 0 -2.3 0zM359.50 166.71a1.15 1.15 0 1 0 2.3 0a1.15 1.15 0 1 0 -2.3 0zM361.77 166.32a1.15 1.15 0 1 0 2.3 0a1.15 1.15 0 1 0 -2.3 0zM364.04 165.90a1.15 1.15 0 1 0 2.3 0a1.15 1.15 0 1 0 -2.3 0zM366.31 165.49a1.15 1.15 0 1 0 2.3 0a1.15 1.15 0 1 0 -2.3 0zM368.58 165.07a1.15 1.15 0 1 0 2.3 0a1.15 1.15 0 1 0 -2.3 0zM370.85 164.65a1.15 1.15 0 1 0 2.3 0a1.15 1.15 0 1 0 -2.3 0zM373.12 164.24a1.15 1.15 0 1 0 2.3 0a1.15 1.15 0 1 0 -2.3 0zM375.39 163.82a1.15 1.15 0 1 0 2.3 0a1.15 1.15 0 1 0 -2.3 0zM377.66 163.40a1.15 1.15 0 1 0 2.3 0a1.15 1.15 0 1 0 -2.3 0zM379.92 162.98a1.15 1.15 0 1 0 2.3 0a1.15 1.15 0 1 0 -2.3 0zM382.19 162.57a1.15 1.15 0 1 0 2.3 0a1.15 1.15 0 1 0 -2.3 0zM384.46 162.15a1.15 1.15 0 1 0 2.3 0a1.15 1.15 0 1 0 -2.3 0zM386.73 161.73a1.15 1.15 0 1 0 2.3 0a1.15 1.15 0 1 0 -2.3 0zM389.00 161.31a1.15 1.15 0 1 0 2.3 0a1.15 1.15 0 1 0 -2.3 0zM391.27 160.90a1.15 1.15 0 1 0 2.3 0a1.15 1.15 0 1 0 -2.3 0zM393.54 160.46a1.15 1.15 0 1 0 2.3 0a1.15 1.15 0 1 0 -2.3 0zM395.81 159.97a1.15 1.15 0 1 0 2.3 0a1.15 1.15 0 1 0 -2.3 0zM398.08 159.48a1.15 1.15 0 1 0 2.3 0a1.15 1.15 0 1 0 -2.3 0zM400.35 159.00a1.15 1.15 0 1 0 2.3 0a1.15 1.15 0 1 0 -2.3 0zM402.61 158.51a1.15 1.15 0 1 0 2.3 0a1.15 1.15 0 1 0 -2.3 0zM404.88 158.03a1.15 1.15 0 1 0 2.3 0a1.15 1.15 0 1 0 -2.3 0zM407.15 157.54a1.15 1.15 0 1 0 2.3 0a1.15 1.15 0 1 0 -2.3 0zM409.42 157.06a1.15 1.15 0 1 0 2.3 0a1.15 1.15 0 1 0 -2.3 0zM411.69 156.57a1.15 1.15 0 1 0 2.3 0a1.15 1.15 0 1 0 -2.3 0zM413.96 156.09a1.15 1.15 0 1 0 2.3 0a1.15 1.15 0 1 0 -2.3 0zM416.23 155.60a1.15 1.15 0 1 0 2.3 0a1.15 1.15 0 1 0 -2.3 0zM418.50 155.12a1.15 1.15 0 1 0 2.3 0a1.15 1.15 0 1 0 -2.3 0zM420.77 154.63a1.15 1.15 0 1 0 2.3 0a1.15 1.15 0 1 0 -2.3 0zM423.04 154.15a1.15 1.15 0 1 0 2.3 0a1.15 1.15 0 1 0 -2.3 0zM425.30 153.61a1.15 1.15 0 1 0 2.3 0a1.15 1.15 0 1 0 -2.3 0zM427.57 153.04a1.15 1.15 0 1 0 2.3 0a1.15 1.15 0 1 0 -2.3 0zM429.84 152.47a1.15 1.15 0 1 0 2.3 0a1.15 1.15 0 1 0 -2.3 0zM432.11 151.90a1.15 1.15 0 1 0 2.3 0a1.15 1.15 0 1 0 -2.3 0zM434.38 151.28a1.15 1.15 0 1 0 2.3 0a1.15 1.15 0 1 0 -2.3 0zM436.65 150.66a1.15 1.15 0 1 0 2.3 0a1.15 1.15 0 1 0 -2.3 0zM438.92 150.05a1.15 1.15 0 1 0 2.3 0a1.15 1.15 0 1 0 -2.3 0zM441.19 149.43a1.15 1.15 0 1 0 2.3 0a1.15 1.15 0 1 0 -2.3 0zM443.46 148.81a1.15 1.15 0 1 0 2.3 0a1.15 1.15 0 1 0 -2.3 0zM445.73 148.23a1.15 1.15 0 1 0 2.3 0a1.15 1.15 0 1 0 -2.3 0zM447.99 147.67a1.15 1.15 0 1 0 2.3 0a1.15 1.15 0 1 0 -2.3 0zM450.26 147.12a1.15 1.15 0 1 0 2.3 0a1.15 1.15 0 1 0 -2.3 0zM452.53 146.56a1.15 1.15 0 1 0 2.3 0a1.15 1.15 0 1 0 -2.3 0zM454.80 146.01a1.15 1.15 0 1 0 2.3 0a1.15 1.15 0 1 0 -2.3 0zM457.07 145.45a1.15 1.15 0 1 0 2.3 0a1.15 1.15 0 1 0 -2.3 0zM459.34 144.99a1.15 1.15 0 1 0 2.3 0a1.15 1.15 0 1 0 -2.3 0zM461.61 144.53a1.15 1.15 0 1 0 2.3 0a1.15 1.15 0 1 0 -2.3 0zM463.88 144.07a1.15 1.15 0 1 0 2.3 0a1.15 1.15 0 1 0 -2.3 0zM466.15 143.60a1.15 1.15 0 1 0 2.3 0a1.15 1.15 0 1 0 -2.3 0zM468.42 143.14a1.15 1.15 0 1 0 2.3 0a1.15 1.15 0 1 0 -2.3 0zM470.68 142.65a1.15 1.15 0 1 0 2.3 0a1.15 1.15 0 1 0 -2.3 0zM472.95 142.11a1.15 1.15 0 1 0 2.3 0a1.15 1.15 0 1 0 -2.3 0zM475.22 141.58a1.15 1.15 0 1 0 2.3 0a1.15 1.15 0 1 0 -2.3 0zM477.49 141.16a1.15 1.15 0 1 0 2.3 0a1.15 1.15 0 1 0 -2.3 0zM479.76 140.82a1.15 1.15 0 1 0 2.3 0a1.15 1.15 0 1 0 -2.3 0zM482.03 140.48a1.15 1.15 0 1 0 2.3 0a1.15 1.15 0 1 0 -2.3 0zM484.30 140.15a1.15 1.15 0 1 0 2.3 0a1.15 1.15 0 1 0 -2.3 0zM487.58 137.23a1.15 1.15 0 1 0 2.3 0a1.15 1.15 0 1 0 -2.3 0zM488.33 137.23a1.15 1.15 0 1 0 2.3 0a1.15 1.15 0 1 0 -2.3 0zM491.61 135.43a1.15 1.15 0 1 0 2.3 0a1.15 1.15 0 1 0 -2.3 0zM497.16 133.63a1.15 1.15 0 1 0 2.3 0a1.15 1.15 0 1 0 -2.3 0zM500.69 131.58a1.15 1.15 0 1 0 2.3 0a1.15 1.15 0 1 0 -2.3 0zM502.20 130.55a1.15 1.15 0 1 0 2.3 0a1.15 1.15 0 1 0 -2.3 0zM503.96 132.09a1.15 1.15 0 1 0 2.3 0a1.15 1.15 0 1 0 -2.3 0zM508.00 127.46a1.15 1.15 0 1 0 2.3 0a1.15 1.15 0 1 0 -2.3 0zM511.27 125.41a1.15 1.15 0 1 0 2.3 0a1.15 1.15 0 1 0 -2.3 0zM512.28 129.01a1.15 1.15 0 1 0 2.3 0a1.15 1.15 0 1 0 -2.3 0z" fill="#ee1020"/>
<path d="M488.47 133.63 L498.31 133.63" stroke="#f07080" stroke-width="0.7" fill="none" stroke-opacity="1.0"/><path d="M487.22 133.63a1.25 1.25 0 1 0 2.5 0a1.25 1.25 0 1 0 -2.5 0zM497.06 133.63a1.25 1.25 0 1 0 2.5 0a1.25 1.25 0 1 0 -2.5 0z" fill="#ee1020"/>
<path d="M496.04 129.01 L501.84 131.58" stroke="#f07080" stroke-width="0.7" fill="none" stroke-opacity="1.0"/><path d="M494.79 129.01a1.25 1.25 0 1 0 2.5 0a1.25 1.25 0 1 0 -2.5 0zM500.59 131.58a1.25 1.25 0 1 0 2.5 0a1.25 1.25 0 1 0 -2.5 0z" fill="#ee1020"/>
<path d="M500.07 124.12 L512.42 125.41" stroke="#f07080" stroke-width="0.7" fill="none" stroke-opacity="1.0"/><path d="M498.82 124.12a1.25 1.25 0 1 0 2.5 0a1.25 1.25 0 1 0 -2.5 0zM511.17 125.41a1.25 1.25 0 1 0 2.5 0a1.25 1.25 0 1 0 -2.5 0z" fill="#ee1020"/>
<path d="M335.69 177.56 L337.96 178.30 L340.23 179.86 L342.50 179.72 L344.77 178.34 L347.04 177.51 L349.31 179.58 L351.58 180.41 L353.85 179.65 L356.12 178.24 L358.38 178.26 L360.65 177.53 L362.92 177.52 L365.19 177.64 L367.46 176.65 L369.73 176.50 L372.00 177.08 L374.27 176.08 L376.54 176.28 L378.81 175.83 L381.07 175.78 L383.34 174.96 L385.61 175.12 L387.88 175.31 L390.15 174.54 L392.42 173.99 L394.69 174.42 L396.96 174.29 L399.23 173.80 L401.50 172.76 L403.76 172.48 L406.03 172.70 L408.30 172.14 L410.57 171.91 L412.84 172.27 L415.11 172.36 L417.38 171.16 L419.65 170.86 L421.92 170.75 L424.19 170.56 L426.45 167.52 L428.72 165.45 L430.99 167.63 L433.26 167.09 L435.53 168.64 L437.80 167.22 L440.07 167.43 L442.34 167.87 L444.61 167.88 L446.88 167.62 L449.14 167.78 L451.41 167.53 L453.68 166.82 L455.95 167.18 L458.22 166.15 L460.49 165.81 L462.76 164.80 L465.03 164.23 L467.30 163.86 L469.57 163.42 L471.83 163.44 L474.10 162.58 L476.37 162.77 L478.64 162.21 L480.91 162.33 L483.18 161.93 L485.45 162.25 L487.72 161.76 L489.99 160.48 L492.26 161.31 L494.52 160.43 L496.79 160.27 L499.06 159.94 L501.33 160.08 L503.60 159.86 L505.87 160.62 L508.14 160.62 L510.41 160.43 L512.68 160.50" stroke="#1a1ac8" stroke-width="1.7" fill="none" stroke-linejoin="round"/>
<path d="M335.69 176.00l1.43 2.60h-2.86zM337.96 176.74l1.43 2.60h-2.86zM340.23 178.30l1.43 2.60h-2.86zM342.50 178.16l1.43 2.60h-2.86zM344.77 176.78l1.43 2.60h-2.86zM347.04 175.95l1.43 2.60h-2.86zM349.31 178.02l1.43 2.60h-2.86zM351.58 178.85l1.43 2.60h-2.86zM353.85 178.09l1.43 2.60h-2.86zM356.12 176.68l1.43 2.60h-2.86zM358.38 176.70l1.43 2.60h-2.86zM360.65 175.97l1.43 2.60h-2.86zM362.92 175.96l1.43 2.60h-2.86zM365.19 176.08l1.43 2.60h-2.86zM367.46 175.09l1.43 2.60h-2.86zM369.73 174.94l1.43 2.60h-2.86zM372.00 175.52l1.43 2.60h-2.86zM374.27 174.52l1.43 2.60h-2.86zM376.54 174.72l1.43 2.60h-2.86zM378.81 174.27l1.43 2.60h-2.86zM381.07 174.22l1.43 2.60h-2.86zM383.34 173.40l1.43 2.60h-2.86zM385.61 173.56l1.43 2.60h-2.86zM387.88 173.75l1.43 2.60h-2.86zM390.15 172.98l1.43 2.60h-2.86zM392.42 172.43l1.43 2.60h-2.86zM394.69 172.86l1.43 2.60h-2.86zM396.96 172.73l1.43 2.60h-2.86zM399.23 172.24l1.43 2.60h-2.86zM401.50 171.20l1.43 2.60h-2.86zM403.76 170.92l1.43 2.60h-2.86zM406.03 171.14l1.43 2.60h-2.86zM408.30 170.58l1.43 2.60h-2.86zM410.57 170.35l1.43 2.60h-2.86zM412.84 170.71l1.43 2.60h-2.86zM415.11 170.80l1.43 2.60h-2.86zM417.38 169.60l1.43 2.60h-2.86zM419.65 169.30l1.43 2.60h-2.86zM421.92 169.19l1.43 2.60h-2.86zM424.19 169.00l1.43 2.60h-2.86zM426.45 165.96l1.43 2.60h-2.86zM428.72 163.89l1.43 2.60h-2.86zM430.99 166.07l1.43 2.60h-2.86zM433.26 165.53l1.43 2.60h-2.86zM435.53 167.08l1.43 2.60h-2.86zM437.80 165.66l1.43 2.60h-2.86zM440.07 165.87l1.43 2.60h-2.86zM442.34 166.31l1.43 2.60h-2.86zM444.61 166.32l1.43 2.60h-2.86zM446.88 166.06l1.43 2.60h-2.86zM449.14 166.22l1.43 2.60h-2.86zM451.41 165.97l1.43 2.60h-2.86zM453.68 165.26l1.43 2.60h-2.86zM455.95 165.62l1.43 2.60h-2.86zM458.22 164.59l1.43 2.60h-2.86zM460.49 164.25l1.43 2.60h-2.86zM462.76 163.24l1.43 2.60h-2.86zM465.03 162.67l1.43 2.60h-2.86zM467.30 162.30l1.43 2.60h-2.86zM469.57 161.86l1.43 2.60h-2.86zM471.83 161.88l1.43 2.60h-2.86zM474.10 161.02l1.43 2.60h-2.86zM476.37 161.21l1.43 2.60h-2.86zM478.64 160.65l1.43 2.60h-2.86zM480.91 160.77l1.43 2.60h-2.86zM483.18 160.37l1.43 2.60h-2.86zM485.45 160.69l1.43 2.60h-2.86zM487.72 160.20l1.43 2.60h-2.86zM489.99 158.92l1.43 2.60h-2.86zM492.26 159.75l1.43 2.60h-2.86zM494.52 158.87l1.43 2.60h-2.86zM496.79 158.71l1.43 2.60h-2.86zM499.06 158.38l1.43 2.60h-2.86zM501.33 158.52l1.43 2.60h-2.86zM503.60 158.30l1.43 2.60h-2.86zM505.87 159.06l1.43 2.60h-2.86zM508.14 159.06l1.43 2.60h-2.86zM510.41 158.87l1.43 2.60h-2.86zM512.68 158.94l1.43 2.60h-2.86z" fill="#1a1ac8"/>
<path d="M335.32 153.37 L337.33 153.07 L339.35 152.78 L341.37 151.60 L343.38 149.74 L345.40 147.87 L347.42 146.06 L349.43 144.99 L351.45 143.93 L353.47 142.86 L355.48 141.80 L357.50 139.67 L359.52 137.19 L361.54 134.87 L363.55 133.89 L365.57 132.91 L367.59 131.42 L369.60 129.69 L371.62 127.97 L373.64 126.25 L375.65 124.67 L377.67 123.13 L379.69 121.30 L381.70 119.41 L383.72 117.52 L385.74 115.37 L387.76 112.94 L389.77 110.28 L391.79 108.54 L393.81 107.51 L395.82 106.42 L397.84 105.22 L399.86 104.01 L401.87 102.81 L403.89 101.37 L405.91 99.75 L407.92 98.13 L409.94 96.52 L411.96 94.91 L413.97 93.31 L415.99 91.70 L418.01 90.13 L420.03 89.11 L422.04 88.08 L424.06 86.97 L426.08 84.61 L428.09 82.26 L430.11 80.42 L432.13 78.70 L434.14 76.97 L436.16 75.23 L438.18 73.49 L440.19 71.84 L442.21 70.26 L444.23 68.53 L446.24 66.44 L448.26 63.87 L450.28 60.82 L452.30 58.33 L454.31 56.96 L456.33 55.65 L458.35 54.36 L460.36 50.27 L462.38 48.80 L464.40 47.28 L466.41 45.68 L468.43 44.77 L470.45 43.85" stroke="#111" stroke-width="1.4" fill="none"/>
<path d="M335.32 153.37 L337.33 153.07 L339.35 152.78 L341.37 151.60 L343.38 149.74 L345.40 147.87 L347.42 146.06 L349.43 144.99 L351.45 143.93 L353.47 142.86 L355.48 141.80 L357.50 139.67 L359.52 137.19 L361.54 134.87 L363.55 133.89 L365.57 132.91 L367.59 131.42 L369.60 129.69 L371.62 127.97 L373.64 126.25 L375.65 124.67 L377.67 123.13 L379.69 121.30 L381.70 119.41 L383.72 117.52 L385.74 115.37 L387.76 112.94 L389.77 110.28 L391.79 108.54 L393.81 107.51 L395.82 106.42 L397.84 105.22 L399.86 104.01 L401.87 102.81 L403.89 101.37 L405.91 99.75 L407.92 98.13 L409.94 96.52 L411.96 94.91 L413.97 93.31 L415.99 91.70 L418.01 90.13 L420.03 89.11 L422.04 88.08 L424.06 86.97 L426.08 84.61 L428.09 82.26 L430.11 80.42 L432.13 78.70 L434.14 76.97 L436.16 75.23 L438.18 73.49 L440.19 71.84 L442.21 70.26 L444.23 68.53 L446.24 66.44 L448.26 63.87 L450.28 60.82 L452.30 58.33 L454.31 56.96 L456.33 55.65 L458.35 54.36 L460.36 50.27 L462.38 48.80 L464.40 47.28 L466.41 45.68 L468.43 44.77 L470.45 43.85 L472.59 42.14 L475.36 39.06 L476.12 42.14 L477.88 38.54 L480.15 37.00 L482.93 34.43 L485.45 37.00 L484.44 33.92 L488.22 30.83 L488.98 32.37 L491.75 31.35 L494.02 29.29 L496.04 27.23 L498.31 29.80 L502.34 27.75 L504.61 28.78 L508.14 25.69 L510.16 25.69 L513.68 26.21 L511.92 24.66 L500.07 24.15" stroke="#555" stroke-width="0.6" fill="none" stroke-opacity="1.0"/><path d="M334.22 152.27h2.2v2.2h-2.2zM336.23 151.97h2.2v2.2h-2.2zM338.25 151.68h2.2v2.2h-2.2zM340.27 150.50h2.2v2.2h-2.2zM342.28 148.64h2.2v2.2h-2.2zM344.30 146.77h2.2v2.2h-2.2zM346.32 144.96h2.2v2.2h-2.2zM348.33 143.89h2.2v2.2h-2.2zM350.35 142.83h2.2v2.2h-2.2zM352.37 141.76h2.2v2.2h-2.2zM354.38 140.70h2.2v2.2h-2.2zM356.40 138.57h2.2v2.2h-2.2zM358.42 136.09h2.2v2.2h-2.2zM360.44 133.77h2.2v2.2h-2.2zM362.45 132.79h2.2v2.2h-2.2zM364.47 131.81h2.2v2.2h-2.2zM366.49 130.32h2.2v2.2h-2.2zM368.50 128.59h2.2v2.2h-2.2zM370.52 126.87h2.2v2.2h-2.2zM372.54 125.15h2.2v2.2h-2.2zM374.55 123.57h2.2v2.2h-2.2zM376.57 122.03h2.2v2.2h-2.2zM378.59 120.20h2.2v2.2h-2.2zM380.60 118.31h2.2v2.2h-2.2zM382.62 116.42h2.2v2.2h-2.2zM384.64 114.27h2.2v2.2h-2.2zM386.66 111.84h2.2v2.2h-2.2zM388.67 109.18h2.2v2.2h-2.2zM390.69 107.44h2.2v2.2h-2.2zM392.71 106.41h2.2v2.2h-2.2zM394.72 105.32h2.2v2.2h-2.2zM396.74 104.12h2.2v2.2h-2.2zM398.76 102.91h2.2v2.2h-2.2zM400.77 101.71h2.2v2.2h-2.2zM402.79 100.27h2.2v2.2h-2.2zM404.81 98.65h2.2v2.2h-2.2zM406.82 97.03h2.2v2.2h-2.2zM408.84 95.42h2.2v2.2h-2.2zM410.86 93.81h2.2v2.2h-2.2zM412.87 92.21h2.2v2.2h-2.2zM414.89 90.60h2.2v2.2h-2.2zM416.91 89.03h2.2v2.2h-2.2zM418.93 88.01h2.2v2.2h-2.2zM420.94 86.98h2.2v2.2h-2.2zM422.96 85.87h2.2v2.2h-2.2zM424.98 83.51h2.2v2.2h-2.2zM426.99 81.16h2.2v2.2h-2.2zM429.01 79.32h2.2v2.2h-2.2zM431.03 77.60h2.2v2.2h-2.2zM433.04 75.87h2.2v2.2h-2.2zM435.06 74.13h2.2v2.2h-2.2zM437.08 72.39h2.2v2.2h-2.2zM439.09 70.74h2.2v2.2h-2.2zM441.11 69.16h2.2v2.2h-2.2zM443.13 67.43h2.2v2.2h-2.2zM445.14 65.34h2.2v2.2h-2.2zM447.16 62.77h2.2v2.2h-2.2zM449.18 59.72h2.2v2.2h-2.2zM451.20 57.23h2.2v2.2h-2.2zM453.21 55.86h2.2v2.2h-2.2zM455.23 54.55h2.2v2.2h-2.2zM457.25 53.26h2.2v2.2h-2.2zM459.26 49.17h2.2v2.2h-2.2zM461.28 47.70h2.2v2.2h-2.2zM463.30 46.18h2.2v2.2h-2.2zM465.31 44.58h2.2v2.2h-2.2zM467.33 43.67h2.2v2.2h-2.2zM469.35 42.75h2.2v2.2h-2.2zM471.49 41.04h2.2v2.2h-2.2zM474.26 37.96h2.2v2.2h-2.2zM475.02 41.04h2.2v2.2h-2.2zM476.78 37.44h2.2v2.2h-2.2zM479.05 35.90h2.2v2.2h-2.2zM481.83 33.33h2.2v2.2h-2.2zM484.35 35.90h2.2v2.2h-2.2zM483.34 32.82h2.2v2.2h-2.2zM487.12 29.73h2.2v2.2h-2.2zM487.88 31.27h2.2v2.2h-2.2zM490.65 30.25h2.2v2.2h-2.2zM492.92 28.19h2.2v2.2h-2.2zM494.94 26.13h2.2v2.2h-2.2zM497.21 28.70h2.2v2.2h-2.2zM501.24 26.65h2.2v2.2h-2.2zM503.51 27.68h2.2v2.2h-2.2zM507.04 24.59h2.2v2.2h-2.2zM509.06 24.59h2.2v2.2h-2.2zM512.58 25.11h2.2v2.2h-2.2zM510.82 23.56h2.2v2.2h-2.2zM498.97 23.05h2.2v2.2h-2.2z" fill="#000"/>
<rect x="159.00" y="238.70" width="258.20" height="178.70" fill="none" stroke="#2a2a2a" stroke-width="1.3"/>
<path d="M159.00 410.53h-4.0M159.00 396.78h-4.0M159.00 383.03h-4.0M159.00 369.29h-4.0M159.00 355.54h-4.0M159.00 341.80h-4.0M159.00 328.05h-4.0M159.00 314.30h-4.0M159.00 300.56h-4.0M159.00 286.81h-4.0M159.00 273.07h-4.0M159.00 259.32h-4.0M159.00 245.57h-4.0M159.00 403.65h-2.3M159.00 389.91h-2.3M159.00 376.16h-2.3M159.00 362.42h-2.3M159.00 348.67h-2.3M159.00 334.92h-2.3M159.00 321.18h-2.3M159.00 307.43h-2.3M159.00 293.68h-2.3M159.00 279.94h-2.3M159.00 266.19h-2.3M159.00 252.45h-2.3M159.00 238.70h-2.3M159.00 417.40v4.0M187.69 417.40v4.0M216.38 417.40v4.0M245.07 417.40v4.0M273.76 417.40v4.0M302.44 417.40v4.0M331.13 417.40v4.0M359.82 417.40v4.0M388.51 417.40v4.0M417.20 417.40v4.0M173.34 417.40v2.3M202.03 417.40v2.3M230.72 417.40v2.3M259.41 417.40v2.3M288.10 417.40v2.3M316.79 417.40v2.3M345.48 417.40v2.3M374.17 417.40v2.3M402.86 417.40v2.3M184.82 238.70v2.3M417.20 256.57h-2.3M210.64 238.70v3.0M417.20 274.44h-3.0M236.46 238.70v2.3M417.20 292.31h-2.3M262.28 238.70v3.0M417.20 310.18h-3.0M288.10 238.70v2.3M417.20 328.05h-2.3M313.92 238.70v3.0M417.20 345.92h-3.0M339.74 238.70v2.3M417.20 363.79h-2.3M365.56 238.70v3.0M417.20 381.66h-3.0M391.38 238.70v2.3M417.20 399.53h-2.3" stroke="#2a2a2a" stroke-width="1.10" fill="none"/>
<text transform="translate(152.10 412.43) scale(1 1.04)" text-anchor="end" font-size="7.0">0.2</text>
<text transform="translate(152.10 398.68) scale(1 1.04)" text-anchor="end" font-size="7.0">0.4</text>
<text transform="translate(152.10 384.93) scale(1 1.04)" text-anchor="end" font-size="7.0">0.6</text>
<text transform="translate(152.10 371.19) scale(1 1.04)" text-anchor="end" font-size="7.0">0.8</text>
<text transform="translate(152.10 357.44) scale(1 1.04)" text-anchor="end" font-size="7.0">1.0</text>
<text transform="translate(152.10 343.70) scale(1 1.04)" text-anchor="end" font-size="7.0">1.2</text>
<text transform="translate(152.10 329.95) scale(1 1.04)" text-anchor="end" font-size="7.0">1.4</text>
<text transform="translate(152.10 316.20) scale(1 1.04)" text-anchor="end" font-size="7.0">1.6</text>
<text transform="translate(152.10 302.46) scale(1 1.04)" text-anchor="end" font-size="7.0">1.8</text>
<text transform="translate(152.10 288.71) scale(1 1.04)" text-anchor="end" font-size="7.0">2.0</text>
<text transform="translate(152.10 274.97) scale(1 1.04)" text-anchor="end" font-size="7.0">2.2</text>
<text transform="translate(152.10 261.22) scale(1 1.04)" text-anchor="end" font-size="7.0">2.4</text>
<text transform="translate(152.10 247.47) scale(1 1.04)" text-anchor="end" font-size="7.0">2.6</text>
<text transform="translate(159.00 428.00) scale(1 1.06)" text-anchor="middle" font-size="7.0">20</text>
<text transform="translate(187.69 428.00) scale(1 1.06)" text-anchor="middle" font-size="7.0">30</text>
<text transform="translate(216.38 428.00) scale(1 1.06)" text-anchor="middle" font-size="7.0">40</text>
<text transform="translate(245.07 428.00) scale(1 1.06)" text-anchor="middle" font-size="7.0">50</text>
<text transform="translate(273.76 428.00) scale(1 1.06)" text-anchor="middle" font-size="7.0">60</text>
<text transform="translate(302.44 428.00) scale(1 1.06)" text-anchor="middle" font-size="7.0">70</text>
<text transform="translate(331.13 428.00) scale(1 1.06)" text-anchor="middle" font-size="7.0">80</text>
<text transform="translate(359.82 428.00) scale(1 1.06)" text-anchor="middle" font-size="7.0">90</text>
<text transform="translate(388.51 428.00) scale(1 1.06)" text-anchor="middle" font-size="7.0">100</text>
<text transform="translate(417.20 428.00) scale(1 1.06)" text-anchor="middle" font-size="7.0">110</text>
<path d="M175 399.01H192.3V407.41H175zM192.3 394.14H222.2V402.54H192.3zM222.2 387.41H250V395.81H222.2zM250 381.66H271.8V390.06H250zM271.8 375.41H303.8V383.81H271.8zM303.8 367.95H336V376.35H303.8zM336 360.44H368.5V368.84H336zM368.5 353.36H397V361.76H368.5z" fill="#fdeef8"/>
<path d="M187.69 403.21 L189.70 402.84 L191.71 402.47 L193.71 402.10 L195.72 401.74 L197.73 401.37 L199.74 400.85 L201.75 400.31 L203.75 399.64 L205.76 398.87 L207.77 398.23 L209.78 397.76 L211.79 397.30 L213.80 396.83 L215.80 396.36 L217.81 395.90 L219.82 395.43 L221.83 394.96 L223.84 394.50 L225.85 394.03 L227.85 393.56 L229.86 393.10 L231.87 392.63 L233.88 392.16 L235.89 391.70 L237.89 391.23 L239.90 390.76 L241.91 390.30 L243.92 389.83 L245.93 389.36 L247.94 388.90 L249.94 388.43 L251.95 387.96 L253.96 387.50 L255.97 387.03 L257.98 386.56 L259.98 386.10 L261.99 385.63 L264.00 385.16 L266.01 384.70 L268.02 384.23 L270.03 383.76 L272.03 383.30 L274.04 382.83 L276.05 382.36 L278.06 381.90 L280.07 381.43 L282.08 380.96 L284.08 380.50 L286.09 380.03 L288.10 379.56 L290.11 379.10 L292.12 378.63 L294.12 378.16 L296.13 377.70 L298.14 377.23 L300.15 376.76 L302.16 376.30 L304.17 375.83 L306.17 375.36 L308.18 374.90 L310.19 374.43 L312.20 373.96 L314.21 373.50 L316.22 373.03 L318.22 372.56 L320.23 372.10 L322.24 371.63 L324.25 371.16 L326.26 370.70 L328.26 370.23 L330.27 369.76 L332.28 369.30 L334.29 368.83 L336.30 368.36 L338.31 367.90 L340.31 367.43 L342.32 366.96 L344.33 366.50 L346.34 366.03 L348.35 365.56 L350.35 365.10 L352.36 364.63 L354.37 364.16 L356.38 363.70 L358.39 363.23 L360.40 362.76 L362.40 362.30 L364.41 361.83 L366.42 361.36 L368.43 360.90 L370.44 360.43 L372.45 359.96 L374.45 359.50 L376.46 359.03 L378.47 358.56 L380.48 358.10 L382.49 357.63 L384.49 357.16 L386.50 356.70 L388.51 356.23 L388.51 362.69 L386.50 363.08 L384.49 363.46 L382.49 363.84 L380.48 364.23 L378.47 364.61 L376.46 365.00 L374.45 365.38 L372.45 365.77 L370.44 366.15 L368.43 366.54 L366.42 366.78 L364.41 367.02 L362.40 367.26 L360.40 367.50 L358.39 367.74 L356.38 367.98 L354.37 368.22 L352.36 368.46 L350.35 370.25 L348.35 371.61 L346.34 371.98 L344.33 372.35 L342.32 372.73 L340.31 373.10 L338.31 373.47 L336.30 373.84 L334.29 374.21 L332.28 374.58 L330.27 374.99 L328.26 375.47 L326.26 375.96 L324.25 376.44 L322.24 376.92 L320.23 377.40 L318.22 377.88 L316.22 378.34 L314.21 378.76 L312.20 379.17 L310.19 379.59 L308.18 380.00 L306.17 380.42 L304.17 380.83 L302.16 381.25 L300.15 381.66 L298.14 381.93 L296.13 382.19 L294.12 382.46 L292.12 382.73 L290.11 383.00 L288.10 383.26 L286.09 383.53 L284.08 383.80 L282.08 384.07 L280.07 384.33 L278.06 384.77 L276.05 385.28 L274.04 385.78 L272.03 387.16 L270.03 388.53 L268.02 389.91 L266.01 391.13 L264.00 392.21 L261.99 393.09 L259.98 393.97 L257.98 394.85 L255.97 395.73 L253.96 396.29 L251.95 396.42 L249.94 396.55 L247.94 396.69 L245.93 396.86 L243.92 397.12 L241.91 397.38 L239.90 397.70 L237.89 398.33 L235.89 398.96 L233.88 399.60 L231.87 400.23 L229.86 400.86 L227.85 401.48 L225.85 402.04 L223.84 402.61 L221.83 403.11 L219.82 403.61 L217.81 404.10 L215.80 404.59 L213.80 405.08 L211.79 405.58 L209.78 405.88 L207.77 406.12 L205.76 406.35 L203.75 406.59 L201.75 406.82 L199.74 407.06 L197.73 407.46 L195.72 407.90 L193.71 408.33 L191.71 408.77 L189.70 409.20 L187.69 409.63z" fill="#fdf0fa"/>
<path d="M187.69 409.63 L189.70 409.20 L191.71 408.77 L193.71 408.33 L195.72 407.90 L197.73 407.46 L199.74 407.06 L201.75 406.82 L203.75 406.59 L205.76 406.35 L207.77 406.12 L209.78 405.88 L211.79 405.58 L213.80 405.08 L215.80 404.59 L217.81 404.10 L219.82 403.61 L221.83 403.11 L223.84 402.61 L225.85 402.04 L227.85 401.48 L229.86 400.86 L231.87 400.23 L233.88 399.60 L235.89 398.96 L237.89 398.33 L239.90 397.70 L241.91 397.38 L243.92 397.12 L245.93 396.86 L247.94 396.69 L249.94 396.55 L251.95 396.42 L253.96 396.29 L255.97 395.73 L257.98 394.85 L259.98 393.97 L261.99 393.09 L264.00 392.21 L266.01 391.13 L268.02 389.91 L270.03 388.53 L272.03 387.16 L274.04 385.78 L276.05 385.28 L278.06 384.77 L280.07 384.33 L282.08 384.07 L284.08 383.80 L286.09 383.53 L288.10 383.26 L290.11 383.00 L292.12 382.73 L294.12 382.46 L296.13 382.19 L298.14 381.93 L300.15 381.66 L302.16 381.25 L304.17 380.83 L306.17 380.42 L308.18 380.00 L310.19 379.59 L312.20 379.17 L314.21 378.76 L316.22 378.34 L318.22 377.88 L320.23 377.40 L322.24 376.92 L324.25 376.44 L326.26 375.96 L328.26 375.47 L330.27 374.99 L332.28 374.58 L334.29 374.21 L336.30 373.84 L338.31 373.47 L340.31 373.10 L342.32 372.73 L344.33 372.35 L346.34 371.98 L348.35 371.61 L350.35 370.25 L352.36 368.46 L354.37 368.22 L356.38 367.98 L358.39 367.74 L360.40 367.50 L362.40 367.26 L364.41 367.02 L366.42 366.78 L368.43 366.54 L370.44 366.15 L372.45 365.77 L374.45 365.38 L376.46 365.00 L378.47 364.61 L380.48 364.23 L382.49 363.84 L384.49 363.46 L386.50 363.08 L388.51 362.69" stroke="#d050f0" stroke-width="1.6" fill="none" transform="translate(0 -1.2)"/>
<path d="M187.69 409.63 L189.70 409.20 L191.71 408.77 L193.71 408.33 L195.72 407.90 L197.73 407.46 L199.74 407.06 L201.75 406.82 L203.75 406.59 L205.76 406.35 L207.77 406.12 L209.78 405.88 L211.79 405.58 L213.80 405.08 L215.80 404.59 L217.81 404.10 L219.82 403.61 L221.83 403.11 L223.84 402.61 L225.85 402.04 L227.85 401.48 L229.86 400.86 L231.87 400.23 L233.88 399.60 L235.89 398.96 L237.89 398.33 L239.90 397.70 L241.91 397.38 L243.92 397.12 L245.93 396.86 L247.94 396.69 L249.94 396.55 L251.95 396.42 L253.96 396.29 L255.97 395.73 L257.98 394.85 L259.98 393.97 L261.99 393.09 L264.00 392.21 L266.01 391.13 L268.02 389.91 L270.03 388.53 L272.03 387.16 L274.04 385.78 L276.05 385.28 L278.06 384.77 L280.07 384.33 L282.08 384.07 L284.08 383.80 L286.09 383.53 L288.10 383.26 L290.11 383.00 L292.12 382.73 L294.12 382.46 L296.13 382.19 L298.14 381.93 L300.15 381.66 L302.16 381.25 L304.17 380.83 L306.17 380.42 L308.18 380.00 L310.19 379.59 L312.20 379.17 L314.21 378.76 L316.22 378.34 L318.22 377.88 L320.23 377.40 L322.24 376.92 L324.25 376.44 L326.26 375.96 L328.26 375.47 L330.27 374.99 L332.28 374.58 L334.29 374.21 L336.30 373.84 L338.31 373.47 L340.31 373.10 L342.32 372.73 L344.33 372.35 L346.34 371.98 L348.35 371.61 L350.35 370.25 L352.36 368.46 L354.37 368.22 L356.38 367.98 L358.39 367.74 L360.40 367.50 L362.40 367.26 L364.41 367.02 L366.42 366.78 L368.43 366.54 L370.44 366.15 L372.45 365.77 L374.45 365.38 L376.46 365.00 L378.47 364.61 L380.48 364.23 L382.49 363.84 L384.49 363.46 L386.50 363.08 L388.51 362.69" stroke="#2a10e0" stroke-width="2.2" fill="none" stroke-opacity="1.0"/><path d="M187.69 409.57l0.06 0.10h-0.11zM189.70 409.14l0.06 0.10h-0.11zM191.71 408.71l0.06 0.10h-0.11zM193.71 408.27l0.06 0.10h-0.11zM195.72 407.84l0.06 0.10h-0.11zM197.73 407.40l0.06 0.10h-0.11zM199.74 407.00l0.06 0.10h-0.11zM201.75 406.76l0.06 0.10h-0.11zM203.75 406.53l0.06 0.10h-0.11zM205.76 406.29l0.06 0.10h-0.11zM207.77 406.06l0.06 0.10h-0.11zM209.78 405.82l0.06 0.10h-0.11zM211.79 405.52l0.06 0.10h-0.11zM213.80 405.02l0.06 0.10h-0.11zM215.80 404.53l0.06 0.10h-0.11zM217.81 404.04l0.06 0.10h-0.11zM219.82 403.55l0.06 0.10h-0.11zM221.83 403.05l0.06 0.10h-0.11zM223.84 402.55l0.06 0.10h-0.11zM225.85 401.98l0.06 0.10h-0.11zM227.85 401.42l0.06 0.10h-0.11zM229.86 400.80l0.06 0.10h-0.11zM231.87 400.17l0.06 0.10h-0.11zM233.88 399.54l0.06 0.10h-0.11zM235.89 398.90l0.06 0.10h-0.11zM237.89 398.27l0.06 0.10h-0.11zM239.90 397.64l0.06 0.10h-0.11zM241.91 397.32l0.06 0.10h-0.11zM243.92 397.06l0.06 0.10h-0.11zM245.93 396.80l0.06 0.10h-0.11zM247.94 396.63l0.06 0.10h-0.11zM249.94 396.49l0.06 0.10h-0.11zM251.95 396.36l0.06 0.10h-0.11zM253.96 396.23l0.06 0.10h-0.11zM255.97 395.67l0.06 0.10h-0.11zM257.98 394.79l0.06 0.10h-0.11zM259.98 393.91l0.06 0.10h-0.11zM261.99 393.03l0.06 0.10h-0.11zM264.00 392.15l0.06 0.10h-0.11zM266.01 391.07l0.06 0.10h-0.11zM268.02 389.85l0.06 0.10h-0.11zM270.03 388.47l0.06 0.10h-0.11zM272.03 387.10l0.06 0.10h-0.11zM274.04 385.72l0.06 0.10h-0.11zM276.05 385.22l0.06 0.10h-0.11zM278.06 384.71l0.06 0.10h-0.11zM280.07 384.27l0.06 0.10h-0.11zM282.08 384.01l0.06 0.10h-0.11zM284.08 383.74l0.06 0.10h-0.11zM286.09 383.47l0.06 0.10h-0.11zM288.10 383.20l0.06 0.10h-0.11zM290.11 382.94l0.06 0.10h-0.11zM292.12 382.67l0.06 0.10h-0.11zM294.12 382.40l0.06 0.10h-0.11zM296.13 382.13l0.06 0.10h-0.11zM298.14 381.87l0.06 0.10h-0.11zM300.15 381.60l0.06 0.10h-0.11zM302.16 381.19l0.06 0.10h-0.11zM304.17 380.77l0.06 0.10h-0.11zM306.17 380.36l0.06 0.10h-0.11zM308.18 379.94l0.06 0.10h-0.11zM310.19 379.53l0.06 0.10h-0.11zM312.20 379.11l0.06 0.10h-0.11zM314.21 378.70l0.06 0.10h-0.11zM316.22 378.28l0.06 0.10h-0.11zM318.22 377.82l0.06 0.10h-0.11zM320.23 377.34l0.06 0.10h-0.11zM322.24 376.86l0.06 0.10h-0.11zM324.25 376.38l0.06 0.10h-0.11zM326.26 375.90l0.06 0.10h-0.11zM328.26 375.41l0.06 0.10h-0.11zM330.27 374.93l0.06 0.10h-0.11zM332.28 374.52l0.06 0.10h-0.11zM334.29 374.15l0.06 0.10h-0.11zM336.30 373.78l0.06 0.10h-0.11zM338.31 373.41l0.06 0.10h-0.11zM340.31 373.04l0.06 0.10h-0.11zM342.32 372.67l0.06 0.10h-0.11zM344.33 372.29l0.06 0.10h-0.11zM346.34 371.92l0.06 0.10h-0.11zM348.35 371.55l0.06 0.10h-0.11zM350.35 370.19l0.06 0.10h-0.11zM352.36 368.40l0.06 0.10h-0.11zM354.37 368.16l0.06 0.10h-0.11zM356.38 367.92l0.06 0.10h-0.11zM358.39 367.68l0.06 0.10h-0.11zM360.40 367.44l0.06 0.10h-0.11zM362.40 367.20l0.06 0.10h-0.11zM364.41 366.96l0.06 0.10h-0.11zM366.42 366.72l0.06 0.10h-0.11zM368.43 366.48l0.06 0.10h-0.11zM370.44 366.09l0.06 0.10h-0.11zM372.45 365.71l0.06 0.10h-0.11zM374.45 365.32l0.06 0.10h-0.11zM376.46 364.94l0.06 0.10h-0.11zM378.47 364.55l0.06 0.10h-0.11zM380.48 364.17l0.06 0.10h-0.11zM382.49 363.78l0.06 0.10h-0.11zM384.49 363.40l0.06 0.10h-0.11zM386.50 363.02l0.06 0.10h-0.11zM388.51 362.63l0.06 0.10h-0.11z" fill="#2a10e0"/>
<path d="M187.69 403.21 L189.70 402.84 L191.71 402.47 L193.71 402.10 L195.72 401.74 L197.73 401.37 L199.74 400.85 L201.75 400.31 L203.75 399.64 L205.76 398.87 L207.77 398.23 L209.78 397.76 L211.79 397.30 L213.80 396.83 L215.80 396.36 L217.81 395.90 L219.82 395.43 L221.83 394.96 L223.84 394.50 L225.85 394.03 L227.85 393.56 L229.86 393.10 L231.87 392.63 L233.88 392.16 L235.89 391.70 L237.89 391.23 L239.90 390.76 L241.91 390.30 L243.92 389.83 L245.93 389.36 L247.94 388.90 L249.94 388.43 L251.95 387.96 L253.96 387.50 L255.97 387.03 L257.98 386.56 L259.98 386.10 L261.99 385.63 L264.00 385.16 L266.01 384.70 L268.02 384.23 L270.03 383.76 L272.03 383.30 L274.04 382.83 L276.05 382.36 L278.06 381.90 L280.07 381.43 L282.08 380.96 L284.08 380.50 L286.09 380.03 L288.10 379.56 L290.11 379.10 L292.12 378.63 L294.12 378.16 L296.13 377.70 L298.14 377.23 L300.15 376.76 L302.16 376.30 L304.17 375.83 L306.17 375.36 L308.18 374.90 L310.19 374.43 L312.20 373.96 L314.21 373.50 L316.22 373.03 L318.22 372.56 L320.23 372.10 L322.24 371.63 L324.25 371.16 L326.26 370.70 L328.26 370.23 L330.27 369.76 L332.28 369.30 L334.29 368.83 L336.30 368.36 L338.31 367.90 L340.31 367.43 L342.32 366.96 L344.33 366.50 L346.34 366.03 L348.35 365.56 L350.35 365.10 L352.36 364.63 L354.37 364.16 L356.38 363.70 L358.39 363.23 L360.40 362.76 L362.40 362.30 L364.41 361.83 L366.42 361.36 L368.43 360.90 L370.44 360.43 L372.45 359.96 L374.45 359.50 L376.46 359.03 L378.47 358.56 L380.48 358.10 L382.49 357.63 L384.49 357.16 L386.50 356.70 L388.51 356.23" stroke="#9a4f22" stroke-width="2.0" fill="none" stroke-opacity="1.0"/><path d="M187.64 403.21a0.05 0.05 0 1 0 0.1 0a0.05 0.05 0 1 0 -0.1 0zM189.65 402.84a0.05 0.05 0 1 0 0.1 0a0.05 0.05 0 1 0 -0.1 0zM191.66 402.47a0.05 0.05 0 1 0 0.1 0a0.05 0.05 0 1 0 -0.1 0zM193.66 402.10a0.05 0.05 0 1 0 0.1 0a0.05 0.05 0 1 0 -0.1 0zM195.67 401.74a0.05 0.05 0 1 0 0.1 0a0.05 0.05 0 1 0 -0.1 0zM197.68 401.37a0.05 0.05 0 1 0 0.1 0a0.05 0.05 0 1 0 -0.1 0zM199.69 400.85a0.05 0.05 0 1 0 0.1 0a0.05 0.05 0 1 0 -0.1 0zM201.70 400.31a0.05 0.05 0 1 0 0.1 0a0.05 0.05 0 1 0 -0.1 0zM203.70 399.64a0.05 0.05 0 1 0 0.1 0a0.05 0.05 0 1 0 -0.1 0zM205.71 398.87a0.05 0.05 0 1 0 0.1 0a0.05 0.05 0 1 0 -0.1 0zM207.72 398.23a0.05 0.05 0 1 0 0.1 0a0.05 0.05 0 1 0 -0.1 0zM209.73 397.76a0.05 0.05 0 1 0 0.1 0a0.05 0.05 0 1 0 -0.1 0zM211.74 397.30a0.05 0.05 0 1 0 0.1 0a0.05 0.05 0 1 0 -0.1 0zM213.75 396.83a0.05 0.05 0 1 0 0.1 0a0.05 0.05 0 1 0 -0.1 0zM215.75 396.36a0.05 0.05 0 1 0 0.1 0a0.05 0.05 0 1 0 -0.1 0zM217.76 395.90a0.05 0.05 0 1 0 0.1 0a0.05 0.05 0 1 0 -0.1 0zM219.77 395.43a0.05 0.05 0 1 0 0.1 0a0.05 0.05 0 1 0 -0.1 0zM221.78 394.96a0.05 0.05 0 1 0 0.1 0a0.05 0.05 0 1 0 -0.1 0zM223.79 394.50a0.05 0.05 0 1 0 0.1 0a0.05 0.05 0 1 0 -0.1 0zM225.80 394.03a0.05 0.05 0 1 0 0.1 0a0.05 0.05 0 1 0 -0.1 0zM227.80 393.56a0.05 0.05 0 1 0 0.1 0a0.05 0.05 0 1 0 -0.1 0zM229.81 393.10a0.05 0.05 0 1 0 0.1 0a0.05 0.05 0 1 0 -0.1 0zM231.82 392.63a0.05 0.05 0 1 0 0.1 0a0.05 0.05 0 1 0 -0.1 0zM233.83 392.16a0.05 0.05 0 1 0 0.1 0a0.05 0.05 0 1 0 -0.1 0zM235.84 391.70a0.05 0.05 0 1 0 0.1 0a0.05 0.05 0 1 0 -0.1 0zM237.84 391.23a0.05 0.05 0 1 0 0.1 0a0.05 0.05 0 1 0 -0.1 0zM239.85 390.76a0.05 0.05 0 1 0 0.1 0a0.05 0.05 0 1 0 -0.1 0zM241.86 390.30a0.05 0.05 0 1 0 0.1 0a0.05 0.05 0 1 0 -0.1 0zM243.87 389.83a0.05 0.05 0 1 0 0.1 0a0.05 0.05 0 1 0 -0.1 0zM245.88 389.36a0.05 0.05 0 1 0 0.1 0a0.05 0.05 0 1 0 -0.1 0zM247.89 388.90a0.05 0.05 0 1 0 0.1 0a0.05 0.05 0 1 0 -0.1 0zM249.89 388.43a0.05 0.05 0 1 0 0.1 0a0.05 0.05 0 1 0 -0.1 0zM251.90 387.96a0.05 0.05 0 1 0 0.1 0a0.05 0.05 0 1 0 -0.1 0zM253.91 387.50a0.05 0.05 0 1 0 0.1 0a0.05 0.05 0 1 0 -0.1 0zM255.92 387.03a0.05 0.05 0 1 0 0.1 0a0.05 0.05 0 1 0 -0.1 0zM257.93 386.56a0.05 0.05 0 1 0 0.1 0a0.05 0.05 0 1 0 -0.1 0zM259.93 386.10a0.05 0.05 0 1 0 0.1 0a0.05 0.05 0 1 0 -0.1 0zM261.94 385.63a0.05 0.05 0 1 0 0.1 0a0.05 0.05 0 1 0 -0.1 0zM263.95 385.16a0.05 0.05 0 1 0 0.1 0a0.05 0.05 0 1 0 -0.1 0zM265.96 384.70a0.05 0.05 0 1 0 0.1 0a0.05 0.05 0 1 0 -0.1 0zM267.97 384.23a0.05 0.05 0 1 0 0.1 0a0.05 0.05 0 1 0 -0.1 0zM269.98 383.76a0.05 0.05 0 1 0 0.1 0a0.05 0.05 0 1 0 -0.1 0zM271.98 383.30a0.05 0.05 0 1 0 0.1 0a0.05 0.05 0 1 0 -0.1 0zM273.99 382.83a0.05 0.05 0 1 0 0.1 0a0.05 0.05 0 1 0 -0.1 0zM276.00 382.36a0.05 0.05 0 1 0 0.1 0a0.05 0.05 0 1 0 -0.1 0zM278.01 381.90a0.05 0.05 0 1 0 0.1 0a0.05 0.05 0 1 0 -0.1 0zM280.02 381.43a0.05 0.05 0 1 0 0.1 0a0.05 0.05 0 1 0 -0.1 0zM282.03 380.96a0.05 0.05 0 1 0 0.1 0a0.05 0.05 0 1 0 -0.1 0zM284.03 380.50a0.05 0.05 0 1 0 0.1 0a0.05 0.05 0 1 0 -0.1 0zM286.04 380.03a0.05 0.05 0 1 0 0.1 0a0.05 0.05 0 1 0 -0.1 0zM288.05 379.56a0.05 0.05 0 1 0 0.1 0a0.05 0.05 0 1 0 -0.1 0zM290.06 379.10a0.05 0.05 0 1 0 0.1 0a0.05 0.05 0 1 0 -0.1 0zM292.07 378.63a0.05 0.05 0 1 0 0.1 0a0.05 0.05 0 1 0 -0.1 0zM294.07 378.16a0.05 0.05 0 1 0 0.1 0a0.05 0.05 0 1 0 -0.1 0zM296.08 377.70a0.05 0.05 0 1 0 0.1 0a0.05 0.05 0 1 0 -0.1 0zM298.09 377.23a0.05 0.05 0 1 0 0.1 0a0.05 0.05 0 1 0 -0.1 0zM300.10 376.76a0.05 0.05 0 1 0 0.1 0a0.05 0.05 0 1 0 -0.1 0zM302.11 376.30a0.05 0.05 0 1 0 0.1 0a0.05 0.05 0 1 0 -0.1 0zM304.12 375.83a0.05 0.05 0 1 0 0.1 0a0.05 0.05 0 1 0 -0.1 0zM306.12 375.36a0.05 0.05 0 1 0 0.1 0a0.05 0.05 0 1 0 -0.1 0zM308.13 374.90a0.05 0.05 0 1 0 0.1 0a0.05 0.05 0 1 0 -0.1 0zM310.14 374.43a0.05 0.05 0 1 0 0.1 0a0.05 0.05 0 1 0 -0.1 0zM312.15 373.96a0.05 0.05 0 1 0 0.1 0a0.05 0.05 0 1 0 -0.1 0zM314.16 373.50a0.05 0.05 0 1 0 0.1 0a0.05 0.05 0 1 0 -0.1 0zM316.17 373.03a0.05 0.05 0 1 0 0.1 0a0.05 0.05 0 1 0 -0.1 0zM318.17 372.56a0.05 0.05 0 1 0 0.1 0a0.05 0.05 0 1 0 -0.1 0zM320.18 372.10a0.05 0.05 0 1 0 0.1 0a0.05 0.05 0 1 0 -0.1 0zM322.19 371.63a0.05 0.05 0 1 0 0.1 0a0.05 0.05 0 1 0 -0.1 0zM324.20 371.16a0.05 0.05 0 1 0 0.1 0a0.05 0.05 0 1 0 -0.1 0zM326.21 370.70a0.05 0.05 0 1 0 0.1 0a0.05 0.05 0 1 0 -0.1 0zM328.21 370.23a0.05 0.05 0 1 0 0.1 0a0.05 0.05 0 1 0 -0.1 0zM330.22 369.76a0.05 0.05 0 1 0 0.1 0a0.05 0.05 0 1 0 -0.1 0zM332.23 369.30a0.05 0.05 0 1 0 0.1 0a0.05 0.05 0 1 0 -0.1 0zM334.24 368.83a0.05 0.05 0 1 0 0.1 0a0.05 0.05 0 1 0 -0.1 0zM336.25 368.36a0.05 0.05 0 1 0 0.1 0a0.05 0.05 0 1 0 -0.1 0zM338.26 367.90a0.05 0.05 0 1 0 0.1 0a0.05 0.05 0 1 0 -0.1 0zM340.26 367.43a0.05 0.05 0 1 0 0.1 0a0.05 0.05 0 1 0 -0.1 0zM342.27 366.96a0.05 0.05 0 1 0 0.1 0a0.05 0.05 0 1 0 -0.1 0zM344.28 366.50a0.05 0.05 0 1 0 0.1 0a0.05 0.05 0 1 0 -0.1 0zM346.29 366.03a0.05 0.05 0 1 0 0.1 0a0.05 0.05 0 1 0 -0.1 0zM348.30 365.56a0.05 0.05 0 1 0 0.1 0a0.05 0.05 0 1 0 -0.1 0zM350.30 365.10a0.05 0.05 0 1 0 0.1 0a0.05 0.05 0 1 0 -0.1 0zM352.31 364.63a0.05 0.05 0 1 0 0.1 0a0.05 0.05 0 1 0 -0.1 0zM354.32 364.16a0.05 0.05 0 1 0 0.1 0a0.05 0.05 0 1 0 -0.1 0zM356.33 363.70a0.05 0.05 0 1 0 0.1 0a0.05 0.05 0 1 0 -0.1 0zM358.34 363.23a0.05 0.05 0 1 0 0.1 0a0.05 0.05 0 1 0 -0.1 0zM360.35 362.76a0.05 0.05 0 1 0 0.1 0a0.05 0.05 0 1 0 -0.1 0zM362.35 362.30a0.05 0.05 0 1 0 0.1 0a0.05 0.05 0 1 0 -0.1 0zM364.36 361.83a0.05 0.05 0 1 0 0.1 0a0.05 0.05 0 1 0 -0.1 0zM366.37 361.36a0.05 0.05 0 1 0 0.1 0a0.05 0.05 0 1 0 -0.1 0zM368.38 360.90a0.05 0.05 0 1 0 0.1 0a0.05 0.05 0 1 0 -0.1 0zM370.39 360.43a0.05 0.05 0 1 0 0.1 0a0.05 0.05 0 1 0 -0.1 0zM372.40 359.96a0.05 0.05 0 1 0 0.1 0a0.05 0.05 0 1 0 -0.1 0zM374.40 359.50a0.05 0.05 0 1 0 0.1 0a0.05 0.05 0 1 0 -0.1 0zM376.41 359.03a0.05 0.05 0 1 0 0.1 0a0.05 0.05 0 1 0 -0.1 0zM378.42 358.56a0.05 0.05 0 1 0 0.1 0a0.05 0.05 0 1 0 -0.1 0zM380.43 358.10a0.05 0.05 0 1 0 0.1 0a0.05 0.05 0 1 0 -0.1 0zM382.44 357.63a0.05 0.05 0 1 0 0.1 0a0.05 0.05 0 1 0 -0.1 0zM384.44 357.16a0.05 0.05 0 1 0 0.1 0a0.05 0.05 0 1 0 -0.1 0zM386.45 356.70a0.05 0.05 0 1 0 0.1 0a0.05 0.05 0 1 0 -0.1 0zM388.46 356.23a0.05 0.05 0 1 0 0.1 0a0.05 0.05 0 1 0 -0.1 0z" fill="#9a4f22"/>
<path d="M198.64 396.78a1.1 1.1 0 1 0 2.2 0a1.1 1.1 0 1 0 -2.2 0z" fill="#7a5a20"/>
<path d="M186.59 370.25h2.2v2.2h-2.2zM188.60 368.97h2.2v2.2h-2.2zM190.61 367.68h2.2v2.2h-2.2zM192.61 366.40h2.2v2.2h-2.2zM194.62 365.12h2.2v2.2h-2.2zM196.63 362.60h2.2v2.2h-2.2zM198.64 361.71h2.2v2.2h-2.2zM200.65 361.34h2.2v2.2h-2.2zM202.65 360.18h2.2v2.2h-2.2zM204.66 359.02h2.2v2.2h-2.2zM206.67 357.86h2.2v2.2h-2.2zM208.68 356.70h2.2v2.2h-2.2zM210.69 355.54h2.2v2.2h-2.2zM212.70 354.38h2.2v2.2h-2.2zM214.70 353.22h2.2v2.2h-2.2zM216.71 352.06h2.2v2.2h-2.2zM218.72 350.89h2.2v2.2h-2.2zM220.73 349.73h2.2v2.2h-2.2zM222.74 348.57h2.2v2.2h-2.2zM224.75 347.41h2.2v2.2h-2.2zM226.75 346.25h2.2v2.2h-2.2zM228.76 345.09h2.2v2.2h-2.2zM230.77 343.93h2.2v2.2h-2.2zM232.78 342.77h2.2v2.2h-2.2zM234.79 341.61h2.2v2.2h-2.2zM236.79 340.45h2.2v2.2h-2.2zM238.80 339.29h2.2v2.2h-2.2zM240.81 338.13h2.2v2.2h-2.2zM242.82 336.97h2.2v2.2h-2.2zM244.83 335.81h2.2v2.2h-2.2zM246.84 334.65h2.2v2.2h-2.2zM248.84 333.49h2.2v2.2h-2.2zM250.85 332.33h2.2v2.2h-2.2zM252.86 331.17h2.2v2.2h-2.2zM254.87 330.00h2.2v2.2h-2.2zM256.88 328.84h2.2v2.2h-2.2zM258.88 327.68h2.2v2.2h-2.2zM260.89 326.52h2.2v2.2h-2.2zM262.90 325.36h2.2v2.2h-2.2zM264.91 324.20h2.2v2.2h-2.2zM266.92 323.04h2.2v2.2h-2.2zM268.93 321.88h2.2v2.2h-2.2zM270.93 320.72h2.2v2.2h-2.2zM272.94 319.56h2.2v2.2h-2.2zM274.95 318.40h2.2v2.2h-2.2zM276.96 317.24h2.2v2.2h-2.2zM278.97 316.08h2.2v2.2h-2.2zM280.98 314.92h2.2v2.2h-2.2zM282.98 313.76h2.2v2.2h-2.2zM284.99 312.60h2.2v2.2h-2.2zM287.00 311.44h2.2v2.2h-2.2zM289.01 310.28h2.2v2.2h-2.2zM291.02 309.11h2.2v2.2h-2.2zM293.02 307.95h2.2v2.2h-2.2zM295.03 306.79h2.2v2.2h-2.2zM297.04 305.63h2.2v2.2h-2.2zM299.05 304.47h2.2v2.2h-2.2zM301.06 303.31h2.2v2.2h-2.2zM303.07 302.15h2.2v2.2h-2.2zM305.07 300.99h2.2v2.2h-2.2zM307.08 299.83h2.2v2.2h-2.2zM309.09 298.67h2.2v2.2h-2.2zM311.10 297.51h2.2v2.2h-2.2zM313.11 296.35h2.2v2.2h-2.2zM315.12 295.19h2.2v2.2h-2.2zM317.12 294.03h2.2v2.2h-2.2zM319.13 292.87h2.2v2.2h-2.2zM321.14 291.71h2.2v2.2h-2.2zM323.15 290.55h2.2v2.2h-2.2zM325.16 289.39h2.2v2.2h-2.2zM327.16 288.22h2.2v2.2h-2.2zM329.17 287.06h2.2v2.2h-2.2zM331.18 285.90h2.2v2.2h-2.2zM333.19 284.74h2.2v2.2h-2.2zM335.20 283.58h2.2v2.2h-2.2zM337.21 282.42h2.2v2.2h-2.2zM339.21 281.26h2.2v2.2h-2.2zM341.22 280.10h2.2v2.2h-2.2zM343.23 278.94h2.2v2.2h-2.2zM345.24 277.78h2.2v2.2h-2.2zM347.25 276.62h2.2v2.2h-2.2zM349.25 275.46h2.2v2.2h-2.2zM351.26 274.30h2.2v2.2h-2.2zM353.27 273.14h2.2v2.2h-2.2zM355.28 271.98h2.2v2.2h-2.2zM357.29 270.82h2.2v2.2h-2.2zM359.30 269.66h2.2v2.2h-2.2zM361.30 268.50h2.2v2.2h-2.2zM363.31 267.33h2.2v2.2h-2.2zM365.32 266.17h2.2v2.2h-2.2zM367.33 265.01h2.2v2.2h-2.2zM369.34 263.85h2.2v2.2h-2.2zM371.35 262.69h2.2v2.2h-2.2zM373.35 261.53h2.2v2.2h-2.2zM375.36 260.37h2.2v2.2h-2.2zM377.37 259.21h2.2v2.2h-2.2zM379.38 258.05h2.2v2.2h-2.2zM381.39 256.89h2.2v2.2h-2.2zM383.39 255.73h2.2v2.2h-2.2zM385.40 254.57h2.2v2.2h-2.2zM387.41 253.41h2.2v2.2h-2.2z" fill="#000"/>
<text transform="translate(9.60 104.00) rotate(-90) scale(1.06 1)" text-anchor="middle" font-size="8.3">Shear Stress (Pa)</text>
<text transform="translate(290.80 100.10) rotate(-90) scale(1.04 1)" text-anchor="middle" font-size="9.0">Shear Stress (Pa)</text>
<text transform="translate(133.20 333.20) rotate(-90) scale(0.99 1)" text-anchor="middle" font-size="8.4">Shear Stress (Pa)</text>
<text x="147.10" y="218.60" text-anchor="middle" font-size="8.7">Shear Rate (1/S)</text>
<text x="426.20" y="217.90" text-anchor="middle" font-size="9.5">Shear Rate (1/S)</text>
<text x="288.00" y="441.90" text-anchor="middle" font-size="9.7">Shear Rate (1/S)</text>
<text x="135.4" y="234.1" text-anchor="middle" class="cap" font-size="11.2"><tspan font-weight="normal">(</tspan><tspan class="l" font-size="12.6">c</tspan><tspan font-weight="normal">)</tspan></text>
<text x="414.7" y="234.1" text-anchor="middle" class="cap" font-size="11.2"><tspan font-weight="normal">(</tspan><tspan class="l" font-size="11.8">d</tspan><tspan font-weight="normal">)</tspan></text>
<text x="274.5" y="457.3" text-anchor="middle" class="cap" font-size="11.8"><tspan font-weight="normal">(</tspan><tspan class="l" font-size="12.8">e</tspan><tspan font-weight="normal">)</tspan></text>
<path d="M39.1 16.9H58.1" stroke="#999" stroke-width="1.2"/><circle cx="48.6" cy="16.9" r="1.5" fill="#000"/>
<path d="M39.1 27.6H58.1" stroke="#f06070" stroke-width="1.0"/><circle cx="48.6" cy="27.6" r="1.5" fill="#e8101c"/>
<path d="M39.1 38.2H58.1" stroke="#6070d0" stroke-width="0.8"/><path d="M48.6 36.400000000000006l1.6500000000000001 3h-3.3000000000000003z" fill="#1a22c8"/>
<text x="61" y="20.0" font-size="8.5">25 °C</text>
<text x="61" y="30.6" font-size="8.5">50 °C</text>
<text x="61" y="41.199999999999996" font-size="8.5">75 °C</text>
<path d="M315.7 24.2H336.7" stroke="#333" stroke-width="0.8"/><circle cx="325.9" cy="24.2" r="1.5" fill="#000"/>
<path d="M315.7 35.9H336.7" stroke="#f8a0b0" stroke-width="2.0"/><circle cx="325.9" cy="35.9" r="1.5" fill="#e8101c"/>
<path d="M315.7 47.3H336.7" stroke="#4050c8" stroke-width="0.8"/><path d="M325.9 45.5l1.6500000000000001 3h-3.3000000000000003z" fill="#1a22c8"/>
<text x="339.5" y="27.5" font-size="9.3">25 °C</text>
<text x="339.5" y="39.05" font-size="9.3">50 °C</text>
<text x="339.5" y="50.599999999999994" font-size="9.3">75 °C</text>
<rect x="182.2" y="246.2" width="2.6" height="2.6" fill="#000"/>
<circle cx="183.5" cy="258.1" r="1.1" fill="#806030"/>
<path d="M172.4 268.3H193.6" stroke="#4040e0" stroke-width="0.8"/><path d="M183.5 266.5l1.6500000000000001 3h-3.3000000000000003z" fill="#1010b0"/>
<text x="196.8" y="250.8" font-size="9.3" word-spacing="1.3">25 °C</text>
<text x="196.8" y="261.2" font-size="9.3" word-spacing="1.3">50 °C</text>
<text x="196.8" y="271.6" font-size="9.3" word-spacing="1.3">75 °C</text>
</svg>
</body></html>
